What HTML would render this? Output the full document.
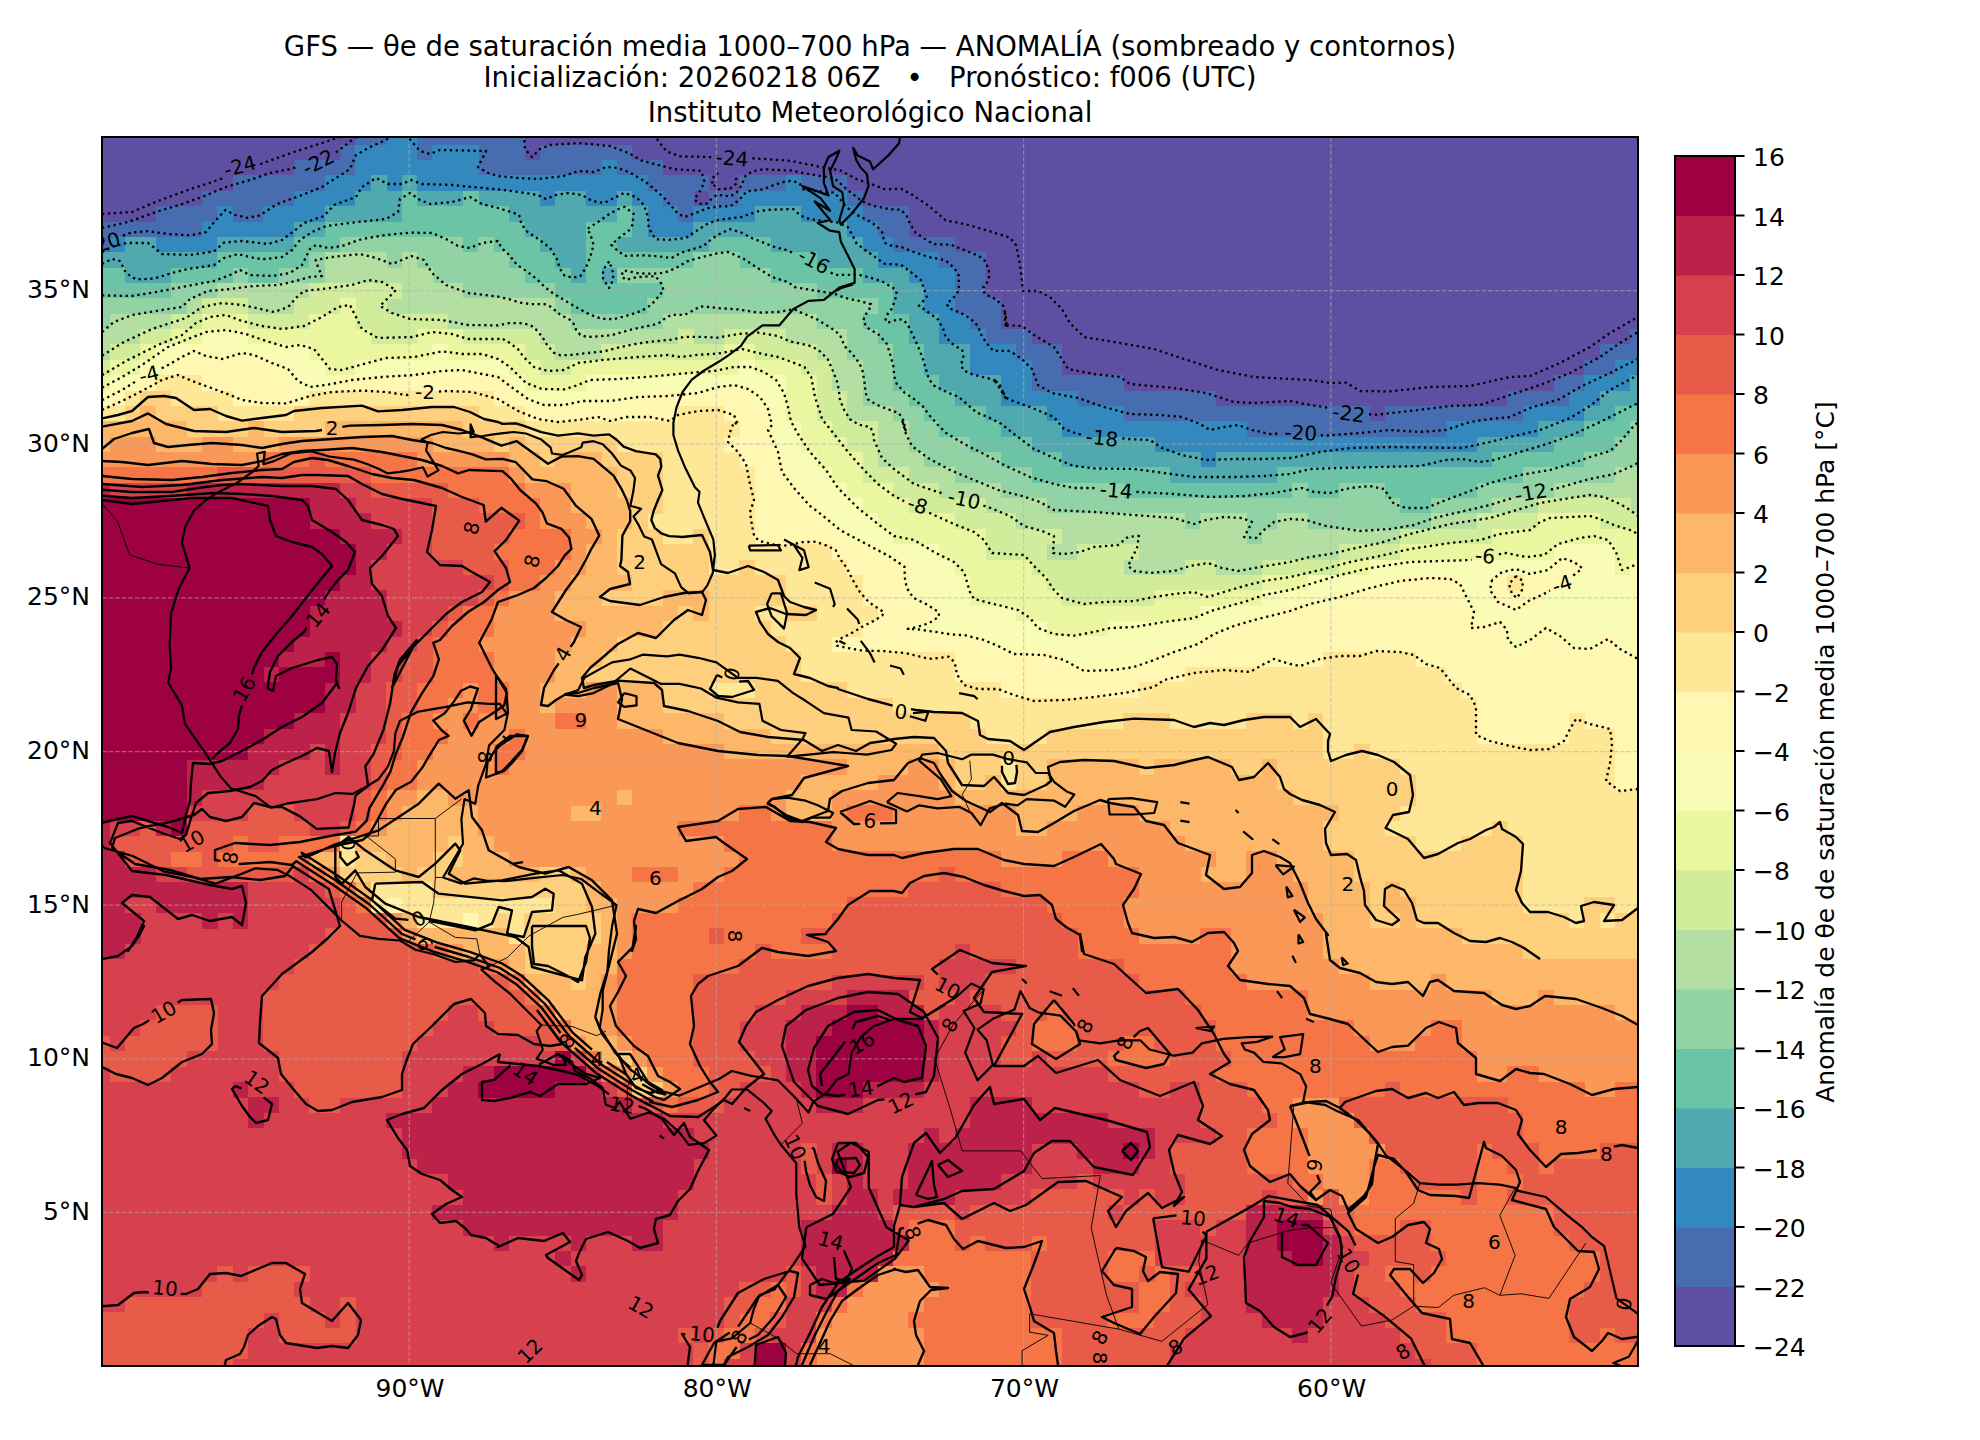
<!DOCTYPE html>
<html lang="es"><head><meta charset="utf-8"><title>GFS θe anomalía</title>
<style>html,body{margin:0;padding:0;background:#fff}body{width:1980px;height:1440px;overflow:hidden}svg{display:block}text{font-family:"DejaVu Sans","Liberation Sans",sans-serif;fill:#000}</style></head><body>
<svg width="1980" height="1440" viewBox="0 0 1980 1440">
<rect width="1980" height="1440" fill="#fff"/>
<g font-size="27.5" text-anchor="middle">
<text x="870.0" y="55.5">GFS — θe de saturación media 1000–700 hPa — ANOMALÍA (sombreado y contornos)</text>
<text x="870.0" y="86.5" xml:space="preserve">Inicialización: 20260218 06Z   •   Pronóstico: f006 (UTC)</text>
<text x="870.0" y="121.5">Instituto Meteorológico Nacional</text>
</g>
<clipPath id="mc"><rect x="102.0" y="137.0" width="1536.0" height="1229.0"/></clipPath>
<g clip-path="url(#mc)">
<rect x="102.0" y="137.0" width="1536.0" height="1229.0" fill="#d7414e"/>
<rect x="102.0" y="137.0" width="1536.0" height="1229.0" fill="#d7414e"/>
<path fill="#5e4fa2" shape-rendering="crispEdges" d="M102.0 137.0H355.7V145.0H102.0ZM524.4 137.0H1638.3V145.0H524.4ZM102.0 144.7H340.4V160.3H102.0ZM524.4 144.7H540.1V160.3H524.4ZM631.9 144.7H1638.3V160.3H631.9ZM102.0 160.0H294.3V175.7H102.0ZM662.6 160.0H1638.3V175.7H662.6ZM102.0 175.4H232.9V191.1H102.0ZM708.7 175.4H739.7V191.1H708.7ZM847.0 175.4H1638.3V191.1H847.0ZM102.0 190.8H202.1V206.4H102.0ZM693.4 190.8H709.0V206.4H693.4ZM862.3 190.8H1638.3V206.4H862.3ZM102.0 206.1H156.1V221.8H102.0ZM908.4 206.1H1638.3V221.8H908.4ZM908.4 221.5H1638.3V237.2H908.4ZM954.5 236.9H1638.3V252.5H954.5ZM985.2 252.2H1638.3V267.9H985.2ZM985.2 267.6H1638.3V283.2H985.2ZM985.2 282.9H1638.3V298.6H985.2ZM1000.6 298.3H1638.3V314.0H1000.6ZM1000.6 313.7H1638.3V329.3H1000.6ZM1031.3 329.0H1630.6V344.7H1031.3ZM1062.0 344.4H1599.9V360.1H1062.0ZM1062.0 359.8H1584.5V375.4H1062.0ZM1123.4 375.1H1553.8V390.8H1123.4ZM1215.6 390.5H1507.7V406.1H1215.6ZM1369.2 405.8H1384.9V421.5H1369.2Z"/>
<path fill="#486cb0" shape-rendering="crispEdges" d="M355.4 137.0H386.5V145.0H355.4ZM416.9 137.0H524.7V145.0H416.9ZM340.1 144.7H355.7V160.3H340.1ZM416.9 144.7H432.5V160.3H416.9ZM478.3 144.7H524.7V160.3H478.3ZM539.8 144.7H632.2V160.3H539.8ZM294.0 160.0H355.7V175.7H294.0ZM478.3 160.0H601.5V175.7H478.3ZM616.6 160.0H662.9V175.7H616.6ZM232.6 175.4H325.0V191.1H232.6ZM647.3 175.4H709.0V191.1H647.3ZM739.4 175.4H785.8V191.1H739.4ZM800.9 175.4H847.3V191.1H800.9ZM201.8 190.8H294.3V206.4H201.8ZM662.6 190.8H693.7V206.4H662.6ZM708.7 190.8H739.7V206.4H708.7ZM847.0 190.8H862.6V206.4H847.0ZM155.8 206.1H217.5V221.8H155.8ZM232.6 206.1H263.6V221.8H232.6ZM678.0 206.1H693.7V221.8H678.0ZM862.3 206.1H908.7V221.8H862.3ZM102.0 221.5H202.1V237.2H102.0ZM877.7 221.5H908.7V237.2H877.7ZM102.0 236.9H110.0V252.5H102.0ZM893.0 236.9H954.8V252.5H893.0ZM939.1 252.2H985.5V267.9H939.1ZM954.5 267.6H985.5V283.2H954.5ZM954.5 282.9H985.5V298.6H954.5ZM954.5 298.3H1000.9V314.0H954.5ZM969.8 313.7H1000.9V329.3H969.8ZM985.2 329.0H1031.6V344.7H985.2ZM1630.3 329.0H1638.3V344.7H1630.3ZM1015.9 344.4H1062.3V360.1H1015.9ZM1599.6 344.4H1638.3V360.1H1599.6ZM1031.3 359.8H1062.3V375.4H1031.3ZM1584.2 359.8H1615.3V375.4H1584.2ZM1031.3 375.1H1123.7V390.8H1031.3ZM1553.5 375.1H1584.5V390.8H1553.5ZM1077.4 390.5H1215.9V406.1H1077.4ZM1507.4 390.5H1569.2V406.1H1507.4ZM1123.4 405.8H1369.5V421.5H1123.4ZM1384.6 405.8H1523.1V421.5H1384.6ZM1246.3 421.2H1446.3V436.9H1246.3Z"/>
<path fill="#3389bd" shape-rendering="crispEdges" d="M386.2 137.0H417.2V145.0H386.2ZM355.4 144.7H417.2V160.3H355.4ZM432.2 144.7H478.6V160.3H432.2ZM355.4 160.0H478.6V175.7H355.4ZM601.2 160.0H616.9V175.7H601.2ZM324.7 175.4H371.1V191.1H324.7ZM386.2 175.4H401.8V191.1H386.2ZM416.9 175.4H647.6V191.1H416.9ZM785.5 175.4H801.2V191.1H785.5ZM294.0 190.8H355.7V206.4H294.0ZM539.8 190.8H555.4V206.4H539.8ZM585.8 190.8H616.9V206.4H585.8ZM631.9 190.8H662.9V206.4H631.9ZM739.4 190.8H847.3V206.4H739.4ZM217.2 206.1H232.9V221.8H217.2ZM263.3 206.1H325.0V221.8H263.3ZM647.3 206.1H678.3V221.8H647.3ZM693.4 206.1H755.1V221.8H693.4ZM800.9 206.1H862.6V221.8H800.9ZM201.8 221.5H294.3V237.2H201.8ZM647.3 221.5H693.7V237.2H647.3ZM847.0 221.5H878.0V237.2H847.0ZM109.7 236.9H125.3V252.5H109.7ZM155.8 236.9H217.5V252.5H155.8ZM862.3 236.9H893.3V252.5H862.3ZM877.7 252.2H939.4V267.9H877.7ZM908.4 267.6H954.8V283.2H908.4ZM923.8 282.9H954.8V298.6H923.8ZM923.8 298.3H954.8V314.0H923.8ZM939.1 313.7H970.1V329.3H939.1ZM939.1 329.0H985.5V344.7H939.1ZM969.8 344.4H1016.2V360.1H969.8ZM969.8 359.8H1031.6V375.4H969.8ZM1615.0 359.8H1638.3V375.4H1615.0ZM1000.6 375.1H1031.6V390.8H1000.6ZM1584.2 375.1H1630.6V390.8H1584.2ZM1000.6 390.5H1077.7V406.1H1000.6ZM1568.9 390.5H1599.9V406.1H1568.9ZM1046.6 405.8H1123.7V421.5H1046.6ZM1522.8 405.8H1584.5V421.5H1522.8ZM1062.0 421.2H1246.6V436.9H1062.0ZM1446.0 421.2H1538.5V436.9H1446.0ZM1154.2 436.6H1477.0V452.2H1154.2ZM1200.2 451.9H1215.9V467.6H1200.2Z"/>
<path fill="#50a9af" shape-rendering="crispEdges" d="M370.8 175.4H386.5V191.1H370.8ZM401.5 175.4H417.2V191.1H401.5ZM355.4 190.8H401.8V206.4H355.4ZM416.9 190.8H463.3V206.4H416.9ZM478.3 190.8H540.1V206.4H478.3ZM555.1 190.8H586.1V206.4H555.1ZM616.6 190.8H632.2V206.4H616.6ZM324.7 206.1H401.8V221.8H324.7ZM509.0 206.1H616.9V221.8H509.0ZM631.9 206.1H647.6V221.8H631.9ZM754.8 206.1H801.2V221.8H754.8ZM294.0 221.5H325.0V237.2H294.0ZM524.4 221.5H586.1V237.2H524.4ZM631.9 221.5H647.6V237.2H631.9ZM693.4 221.5H847.3V237.2H693.4ZM125.0 236.9H156.1V252.5H125.0ZM217.2 236.9H294.3V252.5H217.2ZM539.8 236.9H586.1V252.5H539.8ZM616.6 236.9H709.0V252.5H616.6ZM770.2 236.9H862.6V252.5H770.2ZM102.0 252.2H217.5V267.9H102.0ZM555.1 252.2H586.1V267.9H555.1ZM816.2 252.2H878.0V267.9H816.2ZM125.0 267.6H171.4V283.2H125.0ZM570.5 267.6H586.1V283.2H570.5ZM601.2 267.6H616.9V283.2H601.2ZM862.3 267.6H908.7V283.2H862.3ZM893.0 282.9H924.1V298.6H893.0ZM893.0 298.3H924.1V314.0H893.0ZM908.4 313.7H939.4V329.3H908.4ZM908.4 329.0H939.4V344.7H908.4ZM923.8 344.4H970.1V360.1H923.8ZM923.8 359.8H970.1V375.4H923.8ZM939.1 375.1H1000.9V390.8H939.1ZM1630.3 375.1H1638.3V390.8H1630.3ZM954.5 390.5H1000.9V406.1H954.5ZM1599.6 390.5H1638.3V406.1H1599.6ZM985.2 405.8H1046.9V421.5H985.2ZM1584.2 405.8H1615.3V421.5H1584.2ZM1000.6 421.2H1062.3V436.9H1000.6ZM1538.2 421.2H1584.5V436.9H1538.2ZM1031.3 436.6H1154.5V452.2H1031.3ZM1476.7 436.6H1553.8V452.2H1476.7ZM1062.0 451.9H1200.5V467.6H1062.0ZM1215.6 451.9H1492.4V467.6H1215.6ZM1169.5 467.3H1277.3V483.0H1169.5Z"/>
<path fill="#6bc4a5" shape-rendering="crispEdges" d="M401.5 190.8H417.2V206.4H401.5ZM463.0 190.8H478.6V206.4H463.0ZM401.5 206.1H509.3V221.8H401.5ZM616.6 206.1H632.2V221.8H616.6ZM324.7 221.5H524.7V237.2H324.7ZM585.8 221.5H632.2V237.2H585.8ZM294.0 236.9H340.4V252.5H294.0ZM463.0 236.9H478.6V252.5H463.0ZM493.7 236.9H540.1V252.5H493.7ZM585.8 236.9H616.9V252.5H585.8ZM708.7 236.9H770.5V252.5H708.7ZM217.2 252.2H309.7V267.9H217.2ZM509.0 252.2H555.4V267.9H509.0ZM585.8 252.2H693.7V267.9H585.8ZM739.4 252.2H816.5V267.9H739.4ZM102.0 267.6H125.3V283.2H102.0ZM171.1 267.6H232.9V283.2H171.1ZM247.9 267.6H278.9V283.2H247.9ZM524.4 267.6H570.8V283.2H524.4ZM585.8 267.6H601.5V283.2H585.8ZM770.2 267.6H862.6V283.2H770.2ZM102.0 282.9H171.4V298.6H102.0ZM555.1 282.9H662.9V298.6H555.1ZM816.2 282.9H893.3V298.6H816.2ZM570.5 298.3H647.6V314.0H570.5ZM877.7 298.3H893.3V314.0H877.7ZM862.3 313.7H908.7V329.3H862.3ZM877.7 329.0H908.7V344.7H877.7ZM893.0 344.4H924.1V360.1H893.0ZM893.0 359.8H924.1V375.4H893.0ZM893.0 375.1H939.4V390.8H893.0ZM908.4 390.5H954.8V406.1H908.4ZM923.8 405.8H985.5V421.5H923.8ZM1615.0 405.8H1638.3V421.5H1615.0ZM939.1 421.2H1000.9V436.9H939.1ZM1584.2 421.2H1630.6V436.9H1584.2ZM969.8 436.6H1031.6V452.2H969.8ZM1553.5 436.6H1615.3V452.2H1553.5ZM1000.6 451.9H1062.3V467.6H1000.6ZM1492.1 451.9H1584.5V467.6H1492.1ZM1031.3 467.3H1169.8V483.0H1031.3ZM1277.0 467.3H1523.1V483.0H1277.0ZM1123.4 482.7H1292.7V498.3H1123.4ZM1307.8 482.7H1338.8V498.3H1307.8ZM1384.6 482.7H1477.0V498.3H1384.6ZM1399.9 498.0H1430.9V513.7H1399.9Z"/>
<path fill="#91d3a4" shape-rendering="crispEdges" d="M340.1 236.9H463.3V252.5H340.1ZM478.3 236.9H494.0V252.5H478.3ZM309.4 252.2H325.0V267.9H309.4ZM386.2 252.2H401.8V267.9H386.2ZM416.9 252.2H509.3V267.9H416.9ZM693.4 252.2H739.7V267.9H693.4ZM232.6 267.6H248.2V283.2H232.6ZM278.6 267.6H325.0V283.2H278.6ZM432.2 267.6H524.7V283.2H432.2ZM616.6 267.6H770.5V283.2H616.6ZM171.1 282.9H217.5V298.6H171.1ZM463.0 282.9H555.4V298.6H463.0ZM662.6 282.9H816.5V298.6H662.6ZM102.0 298.3H186.8V314.0H102.0ZM555.1 298.3H570.8V314.0H555.1ZM647.3 298.3H878.0V314.0H647.3ZM102.0 313.7H110.0V329.3H102.0ZM570.5 313.7H662.9V329.3H570.5ZM816.2 313.7H862.6V329.3H816.2ZM847.0 329.0H878.0V344.7H847.0ZM847.0 344.4H893.3V360.1H847.0ZM862.3 359.8H893.3V375.4H862.3ZM862.3 375.1H893.3V390.8H862.3ZM862.3 390.5H908.7V406.1H862.3ZM893.0 405.8H924.1V421.5H893.0ZM908.4 421.2H939.4V436.9H908.4ZM1630.3 421.2H1638.3V436.9H1630.3ZM908.4 436.6H970.1V452.2H908.4ZM1615.0 436.6H1638.3V452.2H1615.0ZM923.8 451.9H1000.9V467.6H923.8ZM1584.2 451.9H1638.3V467.6H1584.2ZM954.5 467.3H1031.6V483.0H954.5ZM1522.8 467.3H1615.3V483.0H1522.8ZM1000.6 482.7H1123.7V498.3H1000.6ZM1292.4 482.7H1308.1V498.3H1292.4ZM1338.5 482.7H1384.9V498.3H1338.5ZM1476.7 482.7H1553.8V498.3H1476.7ZM1046.6 498.0H1400.2V513.7H1046.6ZM1430.6 498.0H1492.4V513.7H1430.6ZM1184.9 513.4H1200.5V529.0H1184.9ZM1246.3 513.4H1277.3V529.0H1246.3ZM1307.8 513.4H1430.9V529.0H1307.8ZM1246.3 528.7H1262.0V544.4H1246.3Z"/>
<path fill="#b3e0a2" shape-rendering="crispEdges" d="M324.7 252.2H386.5V267.9H324.7ZM401.5 252.2H417.2V267.9H401.5ZM324.7 267.6H432.5V283.2H324.7ZM217.2 282.9H309.7V298.6H217.2ZM401.5 282.9H463.3V298.6H401.5ZM186.5 298.3H202.1V314.0H186.5ZM247.9 298.3H294.3V314.0H247.9ZM386.2 298.3H555.4V314.0H386.2ZM109.7 313.7H171.4V329.3H109.7ZM447.6 313.7H570.8V329.3H447.6ZM662.6 313.7H816.5V329.3H662.6ZM102.0 329.0H140.7V344.7H102.0ZM539.8 329.0H678.3V344.7H539.8ZM693.4 329.0H724.4V344.7H693.4ZM785.5 329.0H847.3V344.7H785.5ZM102.0 344.4H110.0V360.1H102.0ZM555.1 344.4H601.5V360.1H555.1ZM816.2 344.4H847.3V360.1H816.2ZM831.6 359.8H862.6V375.4H831.6ZM831.6 375.1H862.6V390.8H831.6ZM847.0 390.5H862.6V406.1H847.0ZM847.0 405.8H893.3V421.5H847.0ZM877.7 421.2H908.7V436.9H877.7ZM877.7 436.6H908.7V452.2H877.7ZM877.7 451.9H924.1V467.6H877.7ZM908.4 467.3H954.8V483.0H908.4ZM1615.0 467.3H1638.3V483.0H1615.0ZM939.1 482.7H1000.9V498.3H939.1ZM1553.5 482.7H1638.3V498.3H1553.5ZM985.2 498.0H1046.9V513.7H985.2ZM1492.1 498.0H1538.5V513.7H1492.1ZM1630.3 498.0H1638.3V513.7H1630.3ZM1015.9 513.4H1185.2V529.0H1015.9ZM1200.2 513.4H1246.6V529.0H1200.2ZM1277.0 513.4H1308.1V529.0H1277.0ZM1430.6 513.4H1477.0V529.0H1430.6ZM1062.0 528.7H1246.6V544.4H1062.0ZM1261.7 528.7H1400.2V544.4H1261.7ZM1046.6 544.1H1077.7V559.8H1046.6ZM1138.8 544.1H1338.8V559.8H1138.8ZM1123.4 559.5H1185.2V575.1H1123.4ZM1215.6 559.5H1262.0V575.1H1215.6Z"/>
<path fill="#d1ed9c" shape-rendering="crispEdges" d="M309.4 282.9H401.8V298.6H309.4ZM201.8 298.3H248.2V314.0H201.8ZM294.0 298.3H340.4V314.0H294.0ZM355.4 298.3H386.5V314.0H355.4ZM171.1 313.7H202.1V329.3H171.1ZM247.9 313.7H309.7V329.3H247.9ZM355.4 313.7H447.9V329.3H355.4ZM140.4 329.0H171.4V344.7H140.4ZM370.8 329.0H417.2V344.7H370.8ZM463.0 329.0H540.1V344.7H463.0ZM678.0 329.0H693.7V344.7H678.0ZM724.1 329.0H785.8V344.7H724.1ZM109.7 344.4H140.7V360.1H109.7ZM524.4 344.4H555.4V360.1H524.4ZM601.2 344.4H724.4V360.1H601.2ZM754.8 344.4H816.5V360.1H754.8ZM102.0 359.8H110.0V375.4H102.0ZM539.8 359.8H570.8V375.4H539.8ZM800.9 359.8H831.9V375.4H800.9ZM816.2 375.1H831.9V390.8H816.2ZM816.2 390.5H847.3V406.1H816.2ZM816.2 405.8H847.3V421.5H816.2ZM831.6 421.2H878.0V436.9H831.6ZM847.0 436.6H878.0V452.2H847.0ZM862.3 451.9H878.0V467.6H862.3ZM862.3 467.3H908.7V483.0H862.3ZM893.0 482.7H939.4V498.3H893.0ZM908.4 498.0H985.5V513.7H908.4ZM1538.2 498.0H1630.6V513.7H1538.2ZM954.5 513.4H1016.2V529.0H954.5ZM1476.7 513.4H1538.5V529.0H1476.7ZM1599.6 513.4H1638.3V529.0H1599.6ZM985.2 528.7H1062.3V544.4H985.2ZM1399.9 528.7H1492.4V544.4H1399.9ZM985.2 544.1H1046.9V559.8H985.2ZM1077.4 544.1H1139.1V559.8H1077.4ZM1338.5 544.1H1400.2V559.8H1338.5ZM1031.3 559.5H1123.7V575.1H1031.3ZM1184.9 559.5H1215.9V575.1H1184.9ZM1261.7 559.5H1338.8V575.1H1261.7ZM1046.6 574.8H1262.0V590.5H1046.6ZM1062.0 590.2H1154.5V605.9H1062.0Z"/>
<path fill="#ebf7a0" shape-rendering="crispEdges" d="M340.1 298.3H355.7V314.0H340.1ZM201.8 313.7H248.2V329.3H201.8ZM309.4 313.7H355.7V329.3H309.4ZM171.1 329.0H202.1V344.7H171.1ZM247.9 329.0H371.1V344.7H247.9ZM416.9 329.0H463.3V344.7H416.9ZM140.4 344.4H156.1V360.1H140.4ZM309.4 344.4H432.5V360.1H309.4ZM447.6 344.4H524.7V360.1H447.6ZM724.1 344.4H755.1V360.1H724.1ZM109.7 359.8H140.7V375.4H109.7ZM324.7 359.8H355.7V375.4H324.7ZM509.0 359.8H540.1V375.4H509.0ZM570.5 359.8H739.7V375.4H570.5ZM754.8 359.8H801.2V375.4H754.8ZM102.0 375.1H110.0V390.8H102.0ZM524.4 375.1H586.1V390.8H524.4ZM785.5 375.1H816.5V390.8H785.5ZM785.5 390.5H816.5V406.1H785.5ZM785.5 405.8H816.5V421.5H785.5ZM800.9 421.2H831.9V436.9H800.9ZM800.9 436.6H847.3V452.2H800.9ZM816.2 451.9H862.6V467.6H816.2ZM831.6 467.3H862.6V483.0H831.6ZM847.0 482.7H893.3V498.3H847.0ZM862.3 498.0H908.7V513.7H862.3ZM877.7 513.4H954.8V529.0H877.7ZM1538.2 513.4H1599.9V529.0H1538.2ZM893.0 528.7H985.5V544.4H893.0ZM1492.1 528.7H1638.3V544.4H1492.1ZM939.1 544.1H985.5V559.8H939.1ZM1399.9 544.1H1553.8V559.8H1399.9ZM1615.0 544.1H1638.3V559.8H1615.0ZM954.5 559.5H1031.6V575.1H954.5ZM1338.5 559.5H1369.5V575.1H1338.5ZM1615.0 559.5H1630.6V575.1H1615.0ZM969.8 574.8H1046.9V590.5H969.8ZM1261.7 574.8H1308.1V590.5H1261.7ZM969.8 590.2H1062.3V605.9H969.8ZM1154.2 590.2H1262.0V605.9H1154.2ZM1015.9 605.6H1200.5V621.2H1015.9ZM1046.6 620.9H1108.4V636.6H1046.6Z"/>
<path fill="#f8fcb4" shape-rendering="crispEdges" d="M201.8 329.0H248.2V344.7H201.8ZM155.8 344.4H186.8V360.1H155.8ZM201.8 344.4H309.7V360.1H201.8ZM432.2 344.4H447.9V360.1H432.2ZM140.4 359.8H171.4V375.4H140.4ZM278.6 359.8H325.0V375.4H278.6ZM355.4 359.8H509.3V375.4H355.4ZM739.4 359.8H755.1V375.4H739.4ZM109.7 375.1H140.7V390.8H109.7ZM294.0 375.1H340.4V390.8H294.0ZM509.0 375.1H524.7V390.8H509.0ZM585.8 375.1H785.8V390.8H585.8ZM102.0 390.5H110.0V406.1H102.0ZM524.4 390.5H632.2V406.1H524.4ZM754.8 390.5H785.8V406.1H754.8ZM770.2 405.8H785.8V421.5H770.2ZM770.2 421.2H801.2V436.9H770.2ZM770.2 436.6H801.2V452.2H770.2ZM785.5 451.9H816.5V467.6H785.5ZM785.5 467.3H831.9V483.0H785.5ZM800.9 482.7H847.3V498.3H800.9ZM816.2 498.0H862.6V513.7H816.2ZM831.6 513.4H878.0V529.0H831.6ZM847.0 528.7H893.3V544.4H847.0ZM877.7 544.1H939.4V559.8H877.7ZM1553.5 544.1H1615.3V559.8H1553.5ZM908.4 559.5H954.8V575.1H908.4ZM1369.2 559.5H1553.8V575.1H1369.2ZM1584.2 559.5H1615.3V575.1H1584.2ZM1630.3 559.5H1638.3V575.1H1630.3ZM908.4 574.8H970.1V590.5H908.4ZM1307.8 574.8H1400.2V590.5H1307.8ZM1461.4 574.8H1492.4V590.5H1461.4ZM1568.9 574.8H1638.3V590.5H1568.9ZM908.4 590.2H970.1V605.9H908.4ZM1261.7 590.2H1338.8V605.9H1261.7ZM1461.4 590.2H1492.4V605.9H1461.4ZM1538.2 590.2H1638.3V605.9H1538.2ZM939.1 605.6H1016.2V621.2H939.1ZM1200.2 605.6H1277.3V621.2H1200.2ZM1476.7 605.6H1638.3V621.2H1476.7ZM908.4 620.9H1046.9V636.6H908.4ZM1108.1 620.9H1231.3V636.6H1108.1ZM1507.4 620.9H1538.5V636.6H1507.4ZM1553.5 620.9H1638.3V636.6H1553.5ZM985.2 636.3H1200.5V651.9H985.2ZM1507.4 636.3H1523.1V651.9H1507.4ZM1568.9 636.3H1599.9V651.9H1568.9ZM1615.0 636.3H1638.3V651.9H1615.0ZM1062.0 651.6H1154.5V667.3H1062.0Z"/>
<path fill="#fff7b2" shape-rendering="crispEdges" d="M186.5 344.4H202.1V360.1H186.5ZM171.1 359.8H278.9V375.4H171.1ZM140.4 375.1H156.1V390.8H140.4ZM201.8 375.1H294.3V390.8H201.8ZM340.1 375.1H509.3V390.8H340.1ZM109.7 390.5H125.3V406.1H109.7ZM232.6 390.5H309.7V406.1H232.6ZM493.7 390.5H524.7V406.1H493.7ZM631.9 390.5H755.1V406.1H631.9ZM524.4 405.8H678.3V421.5H524.4ZM724.1 405.8H770.5V421.5H724.1ZM739.4 421.2H770.5V436.9H739.4ZM724.1 436.6H770.5V452.2H724.1ZM739.4 451.9H785.8V467.6H739.4ZM754.8 467.3H785.8V483.0H754.8ZM754.8 482.7H801.2V498.3H754.8ZM754.8 498.0H816.5V513.7H754.8ZM754.8 513.4H831.9V529.0H754.8ZM754.8 528.7H847.3V544.4H754.8ZM831.6 544.1H878.0V559.8H831.6ZM847.0 559.5H908.7V575.1H847.0ZM1553.5 559.5H1584.5V575.1H1553.5ZM862.3 574.8H908.7V590.5H862.3ZM1399.9 574.8H1461.7V590.5H1399.9ZM1492.1 574.8H1507.7V590.5H1492.1ZM1522.8 574.8H1569.2V590.5H1522.8ZM862.3 590.2H908.7V605.9H862.3ZM1338.5 590.2H1461.7V605.9H1338.5ZM1492.1 590.2H1538.5V605.9H1492.1ZM877.7 605.6H939.4V621.2H877.7ZM1277.0 605.6H1477.0V621.2H1277.0ZM862.3 620.9H908.7V636.6H862.3ZM1231.0 620.9H1507.7V636.6H1231.0ZM1538.2 620.9H1553.8V636.6H1538.2ZM831.6 636.3H985.5V651.9H831.6ZM1200.2 636.3H1507.7V651.9H1200.2ZM1522.8 636.3H1569.2V651.9H1522.8ZM1599.6 636.3H1615.3V651.9H1599.6ZM954.5 651.6H1062.3V667.3H954.5ZM1154.2 651.6H1323.4V667.3H1154.2ZM1415.3 651.6H1638.3V667.3H1415.3ZM954.5 667.0H1185.2V682.7H954.5ZM1446.0 667.0H1638.3V682.7H1446.0ZM1000.6 682.4H1139.1V698.0H1000.6ZM1461.4 682.4H1638.3V698.0H1461.4ZM1476.7 697.7H1638.3V713.4H1476.7ZM1476.7 713.1H1569.2V728.8H1476.7ZM1584.2 713.1H1638.3V728.8H1584.2ZM1476.7 728.5H1569.2V744.1H1476.7ZM1615.0 728.5H1638.3V744.1H1615.0ZM1615.0 743.8H1638.3V759.5H1615.0ZM1615.0 759.2H1638.3V774.8H1615.0ZM1615.0 774.5H1638.3V790.2H1615.0ZM386.2 897.4H401.8V913.1H386.2ZM463.0 912.8H478.6V928.5H463.0Z"/>
<path fill="#fee797" shape-rendering="crispEdges" d="M155.8 375.1H202.1V390.8H155.8ZM125.0 390.5H140.7V406.1H125.0ZM171.1 390.5H232.9V406.1H171.1ZM309.4 390.5H494.0V406.1H309.4ZM102.0 405.8H125.3V421.5H102.0ZM217.2 405.8H294.3V421.5H217.2ZM478.3 405.8H524.7V421.5H478.3ZM678.0 405.8H724.4V421.5H678.0ZM524.4 421.2H739.7V436.9H524.4ZM616.6 436.6H724.4V452.2H616.6ZM662.6 451.9H739.7V467.6H662.6ZM662.6 467.3H755.1V483.0H662.6ZM662.6 482.7H755.1V498.3H662.6ZM662.6 498.0H755.1V513.7H662.6ZM647.3 513.4H755.1V529.0H647.3ZM662.6 528.7H693.7V544.4H662.6ZM708.7 528.7H755.1V544.4H708.7ZM708.7 544.1H831.9V559.8H708.7ZM708.7 559.5H739.7V575.1H708.7ZM754.8 559.5H847.3V575.1H754.8ZM785.5 574.8H862.6V590.5H785.5ZM1507.4 574.8H1523.1V590.5H1507.4ZM785.5 590.2H862.6V605.9H785.5ZM754.8 605.6H785.8V621.2H754.8ZM816.2 605.6H878.0V621.2H816.2ZM770.2 620.9H862.6V636.6H770.2ZM785.5 636.3H831.9V651.9H785.5ZM800.9 651.6H954.8V667.3H800.9ZM1323.1 651.6H1415.6V667.3H1323.1ZM800.9 667.0H954.8V682.7H800.9ZM1184.9 667.0H1446.3V682.7H1184.9ZM708.7 682.4H755.1V698.0H708.7ZM847.0 682.4H1000.9V698.0H847.0ZM1138.8 682.4H1461.7V698.0H1138.8ZM893.0 697.7H1477.0V713.4H893.0ZM969.8 713.1H1123.7V728.8H969.8ZM1169.5 713.1H1246.6V728.8H1169.5ZM1292.4 713.1H1308.1V728.8H1292.4ZM1323.1 713.1H1477.0V728.8H1323.1ZM1568.9 713.1H1584.5V728.8H1568.9ZM985.2 728.5H1046.9V744.1H985.2ZM1323.1 728.5H1477.0V744.1H1323.1ZM1568.9 728.5H1615.3V744.1H1568.9ZM1323.1 743.8H1354.1V759.5H1323.1ZM1369.2 743.8H1615.3V759.5H1369.2ZM1000.6 759.2H1016.2V774.8H1000.6ZM1399.9 759.2H1615.3V774.8H1399.9ZM1000.6 774.5H1016.2V790.2H1000.6ZM1415.3 774.5H1615.3V790.2H1415.3ZM1415.3 789.9H1638.3V805.6H1415.3ZM1399.9 805.3H1638.3V820.9H1399.9ZM1384.6 820.6H1492.4V836.3H1384.6ZM1507.4 820.6H1638.3V836.3H1507.4ZM340.1 836.0H355.7V851.7H340.1ZM1415.3 836.0H1461.7V851.7H1415.3ZM1522.8 836.0H1638.3V851.7H1522.8ZM340.1 851.4H355.7V867.0H340.1ZM1522.8 851.4H1638.3V867.0H1522.8ZM1522.8 866.7H1638.3V882.4H1522.8ZM370.8 882.1H432.5V897.7H370.8ZM1522.8 882.1H1638.3V897.7H1522.8ZM370.8 897.4H386.5V913.1H370.8ZM401.5 897.4H555.4V913.1H401.5ZM1522.8 897.4H1584.5V913.1H1522.8ZM1615.0 897.4H1638.3V913.1H1615.0ZM416.9 912.8H463.3V928.5H416.9ZM478.3 912.8H494.0V928.5H478.3ZM509.0 912.8H524.7V928.5H509.0ZM1568.9 912.8H1584.5V928.5H1568.9ZM1599.6 912.8H1615.3V928.5H1599.6ZM509.0 928.2H524.7V943.8H509.0Z"/>
<path fill="#fed07e" shape-rendering="crispEdges" d="M140.4 390.5H171.4V406.1H140.4ZM125.0 405.8H140.7V421.5H125.0ZM155.8 405.8H217.5V421.5H155.8ZM294.0 405.8H478.6V421.5H294.0ZM186.5 421.2H248.2V436.9H186.5ZM263.3 421.2H325.0V436.9H263.3ZM463.0 421.2H524.7V436.9H463.0ZM493.7 436.6H509.3V452.2H493.7ZM524.4 436.6H616.9V452.2H524.4ZM539.8 451.9H555.4V467.6H539.8ZM601.2 451.9H662.9V467.6H601.2ZM616.6 467.3H662.9V483.0H616.6ZM616.6 482.7H662.9V498.3H616.6ZM631.9 498.0H662.9V513.7H631.9ZM631.9 513.4H647.6V529.0H631.9ZM616.6 528.7H662.9V544.4H616.6ZM693.4 528.7H709.0V544.4H693.4ZM616.6 544.1H709.0V559.8H616.6ZM616.6 559.5H709.0V575.1H616.6ZM739.4 559.5H755.1V575.1H739.4ZM631.9 574.8H785.8V590.5H631.9ZM601.2 590.2H662.9V605.9H601.2ZM708.7 590.2H785.8V605.9H708.7ZM678.0 605.6H693.7V621.2H678.0ZM708.7 605.6H755.1V621.2H708.7ZM785.5 605.6H816.5V621.2H785.5ZM662.6 620.9H770.5V636.6H662.6ZM616.6 636.3H785.8V651.9H616.6ZM601.2 651.6H801.2V667.3H601.2ZM585.8 667.0H801.2V682.7H585.8ZM662.6 682.4H709.0V698.0H662.6ZM754.8 682.4H847.3V698.0H754.8ZM662.6 697.7H893.3V713.4H662.6ZM724.1 713.1H970.1V728.8H724.1ZM1123.4 713.1H1169.8V728.8H1123.4ZM1246.3 713.1H1292.7V728.8H1246.3ZM1307.8 713.1H1323.4V728.8H1307.8ZM770.2 728.5H985.5V744.1H770.2ZM1046.6 728.5H1323.4V744.1H1046.6ZM939.1 743.8H1323.4V759.5H939.1ZM1353.8 743.8H1369.5V759.5H1353.8ZM954.5 759.2H1000.9V774.8H954.5ZM1015.9 759.2H1046.9V774.8H1015.9ZM1138.8 759.2H1154.5V774.8H1138.8ZM1231.0 759.2H1262.0V774.8H1231.0ZM1277.0 759.2H1400.2V774.8H1277.0ZM954.5 774.5H985.5V790.2H954.5ZM1015.9 774.5H1046.9V790.2H1015.9ZM1277.0 774.5H1415.6V790.2H1277.0ZM1292.4 789.9H1415.6V805.6H1292.4ZM1338.5 805.3H1400.2V820.9H1338.5ZM1323.1 820.6H1384.9V836.3H1323.1ZM1492.1 820.6H1507.7V836.3H1492.1ZM447.6 836.0H463.3V851.7H447.6ZM1323.1 836.0H1415.6V851.7H1323.1ZM1461.4 836.0H1523.1V851.7H1461.4ZM355.4 851.4H386.5V867.0H355.4ZM432.2 851.4H463.3V867.0H432.2ZM1353.8 851.4H1523.1V867.0H1353.8ZM340.1 866.7H401.8V882.4H340.1ZM416.9 866.7H447.9V882.4H416.9ZM539.8 866.7H570.8V882.4H539.8ZM1353.8 866.7H1523.1V882.4H1353.8ZM432.2 882.1H586.1V897.7H432.2ZM1369.2 882.1H1384.9V897.7H1369.2ZM1399.9 882.1H1523.1V897.7H1399.9ZM555.1 897.4H586.1V913.1H555.1ZM1369.2 897.4H1384.9V913.1H1369.2ZM1415.3 897.4H1523.1V913.1H1415.3ZM1584.2 897.4H1615.3V913.1H1584.2ZM493.7 912.8H509.3V928.5H493.7ZM524.4 912.8H601.5V928.5H524.4ZM1369.2 912.8H1400.2V928.5H1369.2ZM1415.3 912.8H1569.2V928.5H1415.3ZM1584.2 912.8H1599.9V928.5H1584.2ZM1615.0 912.8H1638.3V928.5H1615.0ZM524.4 928.2H601.5V943.8H524.4ZM1461.4 928.2H1638.3V943.8H1461.4ZM524.4 943.5H586.1V959.2H524.4ZM1522.8 943.5H1638.3V959.2H1522.8ZM524.4 958.9H586.1V974.6H524.4ZM570.5 974.3H586.1V989.9H570.5ZM616.6 1051.1H632.2V1066.7H616.6ZM631.9 1066.4H647.6V1082.1H631.9ZM631.9 1081.8H662.9V1097.5H631.9Z"/>
<path fill="#fdb768" shape-rendering="crispEdges" d="M140.4 405.8H156.1V421.5H140.4ZM102.0 421.2H186.8V436.9H102.0ZM247.9 421.2H263.6V436.9H247.9ZM324.7 421.2H463.3V436.9H324.7ZM102.0 436.6H110.0V452.2H102.0ZM155.8 436.6H202.1V452.2H155.8ZM232.6 436.6H278.9V452.2H232.6ZM432.2 436.6H494.0V452.2H432.2ZM509.0 436.6H524.7V452.2H509.0ZM509.0 451.9H540.1V467.6H509.0ZM555.1 451.9H601.5V467.6H555.1ZM524.4 467.3H616.9V483.0H524.4ZM570.5 482.7H616.9V498.3H570.5ZM570.5 498.0H632.2V513.7H570.5ZM585.8 513.4H632.2V529.0H585.8ZM601.2 528.7H616.9V544.4H601.2ZM585.8 544.1H616.9V559.8H585.8ZM585.8 559.5H616.9V575.1H585.8ZM570.5 574.8H632.2V590.5H570.5ZM555.1 590.2H601.5V605.9H555.1ZM662.6 590.2H709.0V605.9H662.6ZM555.1 605.6H678.3V621.2H555.1ZM693.4 605.6H709.0V621.2H693.4ZM585.8 620.9H662.9V636.6H585.8ZM570.5 636.3H616.9V651.9H570.5ZM555.1 651.6H601.5V667.3H555.1ZM555.1 667.0H586.1V682.7H555.1ZM539.8 682.4H586.1V698.0H539.8ZM616.6 682.4H662.9V698.0H616.6ZM539.8 697.7H555.4V713.4H539.8ZM616.6 697.7H662.9V713.4H616.6ZM616.6 713.1H724.4V728.8H616.6ZM662.6 728.5H770.5V744.1H662.6ZM724.1 743.8H939.4V759.5H724.1ZM847.0 759.2H908.7V774.8H847.0ZM939.1 759.2H954.8V774.8H939.1ZM1046.6 759.2H1139.1V774.8H1046.6ZM1154.2 759.2H1231.3V774.8H1154.2ZM1261.7 759.2H1277.3V774.8H1261.7ZM800.9 774.5H878.0V790.2H800.9ZM939.1 774.5H954.8V790.2H939.1ZM985.2 774.5H1000.9V790.2H985.2ZM1046.6 774.5H1277.3V790.2H1046.6ZM416.9 789.9H447.9V805.6H416.9ZM616.6 789.9H632.2V805.6H616.6ZM785.5 789.9H831.9V805.6H785.5ZM954.5 789.9H1292.7V805.6H954.5ZM401.5 805.3H478.6V820.9H401.5ZM570.5 805.3H601.5V820.9H570.5ZM785.5 805.3H831.9V820.9H785.5ZM1015.9 805.3H1077.7V820.9H1015.9ZM1138.8 805.3H1338.8V820.9H1138.8ZM386.2 820.6H478.6V836.3H386.2ZM1015.9 820.6H1046.9V836.3H1015.9ZM1169.5 820.6H1323.4V836.3H1169.5ZM355.4 836.0H447.9V851.7H355.4ZM463.0 836.0H494.0V851.7H463.0ZM1184.9 836.0H1323.4V851.7H1184.9ZM309.4 851.4H340.4V867.0H309.4ZM386.2 851.4H432.5V867.0H386.2ZM463.0 851.4H509.3V867.0H463.0ZM1215.6 851.4H1246.6V867.0H1215.6ZM1277.0 851.4H1354.1V867.0H1277.0ZM401.5 866.7H417.2V882.4H401.5ZM447.6 866.7H540.1V882.4H447.6ZM570.5 866.7H586.1V882.4H570.5ZM1200.2 866.7H1246.6V882.4H1200.2ZM1292.4 866.7H1354.1V882.4H1292.4ZM355.4 882.1H371.1V897.7H355.4ZM585.8 882.1H601.5V897.7H585.8ZM1307.8 882.1H1369.5V897.7H1307.8ZM1384.6 882.1H1400.2V897.7H1384.6ZM585.8 897.4H616.9V913.1H585.8ZM1307.8 897.4H1369.5V913.1H1307.8ZM1384.6 897.4H1415.6V913.1H1384.6ZM401.5 912.8H417.2V928.5H401.5ZM601.2 912.8H616.9V928.5H601.2ZM1323.1 912.8H1369.5V928.5H1323.1ZM1399.9 912.8H1415.6V928.5H1399.9ZM416.9 928.2H509.3V943.8H416.9ZM601.2 928.2H616.9V943.8H601.2ZM1323.1 928.2H1461.7V943.8H1323.1ZM463.0 943.5H524.7V959.2H463.0ZM585.8 943.5H616.9V959.2H585.8ZM1323.1 943.5H1523.1V959.2H1323.1ZM509.0 958.9H524.7V974.6H509.0ZM585.8 958.9H616.9V974.6H585.8ZM1338.5 958.9H1638.3V974.6H1338.5ZM524.4 974.3H570.8V989.9H524.4ZM585.8 974.3H601.5V989.9H585.8ZM1369.2 974.3H1430.9V989.9H1369.2ZM1446.0 974.3H1638.3V989.9H1446.0ZM539.8 989.6H601.5V1005.3H539.8ZM1492.1 989.6H1538.5V1005.3H1492.1ZM1553.5 989.6H1638.3V1005.3H1553.5ZM555.1 1005.0H601.5V1020.6H555.1ZM1615.0 1005.0H1638.3V1020.6H1615.0ZM570.5 1020.3H601.5V1036.0H570.5ZM585.8 1035.7H616.9V1051.4H585.8ZM601.2 1051.1H616.9V1066.7H601.2Z"/>
<path fill="#fa9857" shape-rendering="crispEdges" d="M109.7 436.6H156.1V452.2H109.7ZM201.8 436.6H232.9V452.2H201.8ZM278.6 436.6H432.5V452.2H278.6ZM102.0 451.9H263.6V467.6H102.0ZM416.9 451.9H509.3V467.6H416.9ZM509.0 467.3H524.7V483.0H509.0ZM524.4 482.7H570.8V498.3H524.4ZM539.8 498.0H570.8V513.7H539.8ZM539.8 513.4H586.1V529.0H539.8ZM570.5 528.7H601.5V544.4H570.5ZM570.5 544.1H586.1V559.8H570.5ZM555.1 559.5H586.1V575.1H555.1ZM539.8 574.8H570.8V590.5H539.8ZM509.0 590.2H555.4V605.9H509.0ZM493.7 605.6H555.4V621.2H493.7ZM493.7 620.9H586.1V636.6H493.7ZM478.3 636.3H570.8V651.9H478.3ZM493.7 651.6H555.4V667.3H493.7ZM493.7 667.0H555.4V682.7H493.7ZM463.0 682.4H478.6V698.0H463.0ZM509.0 682.4H540.1V698.0H509.0ZM585.8 682.4H616.9V698.0H585.8ZM447.6 697.7H478.6V713.4H447.6ZM509.0 697.7H540.1V713.4H509.0ZM555.1 697.7H616.9V713.4H555.1ZM432.2 713.1H463.3V728.8H432.2ZM478.3 713.1H555.4V728.8H478.3ZM585.8 713.1H616.9V728.8H585.8ZM447.6 728.5H509.3V744.1H447.6ZM524.4 728.5H662.9V744.1H524.4ZM432.2 743.8H494.0V759.5H432.2ZM524.4 743.8H724.4V759.5H524.4ZM416.9 759.2H494.0V774.8H416.9ZM509.0 759.2H847.3V774.8H509.0ZM908.4 759.2H939.4V774.8H908.4ZM416.9 774.5H801.2V790.2H416.9ZM877.7 774.5H939.4V790.2H877.7ZM386.2 789.9H417.2V805.6H386.2ZM447.6 789.9H616.9V805.6H447.6ZM631.9 789.9H785.8V805.6H631.9ZM831.6 789.9H954.8V805.6H831.6ZM386.2 805.3H401.8V820.9H386.2ZM478.3 805.3H570.8V820.9H478.3ZM601.2 805.3H739.7V820.9H601.2ZM770.2 805.3H785.8V820.9H770.2ZM831.6 805.3H847.3V820.9H831.6ZM893.0 805.3H1016.2V820.9H893.0ZM1077.4 805.3H1139.1V820.9H1077.4ZM370.8 820.6H386.5V836.3H370.8ZM478.3 820.6H678.3V836.3H478.3ZM831.6 820.6H1016.2V836.3H831.6ZM1046.6 820.6H1169.8V836.3H1046.6ZM493.7 836.0H724.4V851.7H493.7ZM831.6 836.0H1185.2V851.7H831.6ZM509.0 851.4H739.7V867.0H509.0ZM1000.6 851.4H1062.3V867.0H1000.6ZM1108.1 851.4H1215.9V867.0H1108.1ZM1246.3 851.4H1277.3V867.0H1246.3ZM324.7 866.7H340.4V882.4H324.7ZM585.8 866.7H632.2V882.4H585.8ZM678.0 866.7H724.4V882.4H678.0ZM1138.8 866.7H1200.5V882.4H1138.8ZM1246.3 866.7H1292.7V882.4H1246.3ZM601.2 882.1H693.7V897.7H601.2ZM1138.8 882.1H1308.1V897.7H1138.8ZM616.6 897.4H678.3V913.1H616.6ZM1123.4 897.4H1308.1V913.1H1123.4ZM386.2 912.8H401.8V928.5H386.2ZM616.6 912.8H632.2V928.5H616.6ZM1123.4 912.8H1323.4V928.5H1123.4ZM401.5 928.2H417.2V943.8H401.5ZM616.6 928.2H632.2V943.8H616.6ZM1138.8 928.2H1200.5V943.8H1138.8ZM1231.0 928.2H1323.4V943.8H1231.0ZM447.6 943.5H463.3V959.2H447.6ZM616.6 943.5H632.2V959.2H616.6ZM1231.0 943.5H1323.4V959.2H1231.0ZM493.7 958.9H509.3V974.6H493.7ZM1231.0 958.9H1338.8V974.6H1231.0ZM601.2 974.3H616.9V989.9H601.2ZM1246.3 974.3H1369.5V989.9H1246.3ZM1430.6 974.3H1446.3V989.9H1430.6ZM601.2 989.6H616.9V1005.3H601.2ZM1307.8 989.6H1492.4V1005.3H1307.8ZM1538.2 989.6H1553.8V1005.3H1538.2ZM601.2 1005.0H616.9V1020.6H601.2ZM1307.8 1005.0H1615.3V1020.6H1307.8ZM601.2 1020.3H616.9V1036.0H601.2ZM1353.8 1020.3H1430.9V1036.0H1353.8ZM1461.4 1020.3H1638.3V1036.0H1461.4ZM570.5 1035.7H586.1V1051.4H570.5ZM616.6 1035.7H632.2V1051.4H616.6ZM1369.2 1035.7H1415.6V1051.4H1369.2ZM1461.4 1035.7H1638.3V1051.4H1461.4ZM631.9 1051.1H647.6V1066.7H631.9ZM1476.7 1051.1H1638.3V1066.7H1476.7ZM616.6 1066.4H632.2V1082.1H616.6ZM647.3 1066.4H662.9V1082.1H647.3ZM1476.7 1066.4H1507.7V1082.1H1476.7ZM1538.2 1066.4H1638.3V1082.1H1538.2ZM662.6 1081.8H678.3V1097.5H662.6ZM1584.2 1081.8H1615.3V1097.5H1584.2ZM1292.4 1097.2H1338.8V1112.8H1292.4ZM1292.4 1112.5H1354.1V1128.2H1292.4ZM1307.8 1127.9H1369.5V1143.5H1307.8ZM1307.8 1143.2H1384.9V1158.9H1307.8ZM1307.8 1158.6H1369.5V1174.3H1307.8ZM1323.1 1174.0H1369.5V1189.6H1323.1ZM1307.8 1189.3H1323.4V1205.0H1307.8ZM1338.5 1189.3H1369.5V1205.0H1338.5ZM877.7 1266.1H924.1V1281.8H877.7ZM862.3 1281.5H939.4V1297.2H862.3ZM847.0 1296.9H924.1V1312.5H847.0ZM831.6 1312.2H908.7V1327.9H831.6ZM816.2 1327.6H924.1V1343.3H816.2ZM816.2 1343.0H924.1V1358.6H816.2ZM816.2 1358.3H924.1V1366.3H816.2Z"/>
<path fill="#f57547" shape-rendering="crispEdges" d="M263.3 451.9H309.7V467.6H263.3ZM324.7 451.9H417.2V467.6H324.7ZM102.0 467.3H217.5V483.0H102.0ZM370.8 467.3H509.3V483.0H370.8ZM447.6 482.7H524.7V498.3H447.6ZM478.3 498.0H540.1V513.7H478.3ZM524.4 513.4H540.1V529.0H524.4ZM509.0 528.7H570.8V544.4H509.0ZM493.7 544.1H570.8V559.8H493.7ZM509.0 559.5H555.4V575.1H509.0ZM509.0 574.8H540.1V590.5H509.0ZM493.7 590.2H509.3V605.9H493.7ZM463.0 605.6H494.0V621.2H463.0ZM447.6 620.9H494.0V636.6H447.6ZM432.2 636.3H478.6V651.9H432.2ZM432.2 651.6H494.0V667.3H432.2ZM432.2 667.0H494.0V682.7H432.2ZM416.9 682.4H463.3V698.0H416.9ZM478.3 682.4H509.3V698.0H478.3ZM416.9 697.7H447.9V713.4H416.9ZM478.3 697.7H509.3V713.4H478.3ZM401.5 713.1H432.5V728.8H401.5ZM463.0 713.1H478.6V728.8H463.0ZM555.1 713.1H586.1V728.8H555.1ZM401.5 728.5H447.9V744.1H401.5ZM509.0 728.5H524.7V744.1H509.0ZM401.5 743.8H432.5V759.5H401.5ZM493.7 743.8H524.7V759.5H493.7ZM386.2 759.2H417.2V774.8H386.2ZM493.7 759.2H509.3V774.8H493.7ZM386.2 774.5H417.2V790.2H386.2ZM370.8 789.9H386.5V805.6H370.8ZM370.8 805.3H386.5V820.9H370.8ZM739.4 805.3H770.5V820.9H739.4ZM847.0 805.3H893.3V820.9H847.0ZM355.4 820.6H371.1V836.3H355.4ZM678.0 820.6H831.9V836.3H678.0ZM232.6 836.0H248.2V851.7H232.6ZM278.6 836.0H340.4V851.7H278.6ZM724.1 836.0H831.9V851.7H724.1ZM171.1 851.4H202.1V867.0H171.1ZM217.2 851.4H309.7V867.0H217.2ZM739.4 851.4H1000.9V867.0H739.4ZM1062.0 851.4H1108.4V867.0H1062.0ZM309.4 866.7H325.0V882.4H309.4ZM631.9 866.7H678.3V882.4H631.9ZM724.1 866.7H939.4V882.4H724.1ZM954.5 866.7H1139.1V882.4H954.5ZM340.1 882.1H355.7V897.7H340.1ZM693.4 882.1H908.7V897.7H693.4ZM1000.6 882.1H1139.1V897.7H1000.6ZM355.4 897.4H371.1V913.1H355.4ZM678.0 897.4H847.3V913.1H678.0ZM1046.6 897.4H1123.7V913.1H1046.6ZM631.9 912.8H831.9V928.5H631.9ZM1062.0 912.8H1123.7V928.5H1062.0ZM631.9 928.2H709.0V943.8H631.9ZM724.1 928.2H801.2V943.8H724.1ZM1077.4 928.2H1139.1V943.8H1077.4ZM1200.2 928.2H1231.3V943.8H1200.2ZM432.2 943.5H447.9V959.2H432.2ZM631.9 943.5H755.1V959.2H631.9ZM770.2 943.5H831.9V959.2H770.2ZM1077.4 943.5H1231.3V959.2H1077.4ZM478.3 958.9H494.0V974.6H478.3ZM616.6 958.9H739.7V974.6H616.6ZM1123.4 958.9H1231.3V974.6H1123.4ZM509.0 974.3H524.7V989.9H509.0ZM616.6 974.3H693.7V989.9H616.6ZM1138.8 974.3H1246.6V989.9H1138.8ZM524.4 989.6H540.1V1005.3H524.4ZM616.6 989.6H693.7V1005.3H616.6ZM1184.9 989.6H1308.1V1005.3H1184.9ZM539.8 1005.0H555.4V1020.6H539.8ZM616.6 1005.0H693.7V1020.6H616.6ZM1046.6 1005.0H1062.3V1020.6H1046.6ZM1200.2 1005.0H1308.1V1020.6H1200.2ZM555.1 1020.3H570.8V1036.0H555.1ZM616.6 1020.3H693.7V1036.0H616.6ZM1031.3 1020.3H1077.7V1036.0H1031.3ZM1215.6 1020.3H1354.1V1036.0H1215.6ZM1430.6 1020.3H1461.7V1036.0H1430.6ZM631.9 1035.7H693.7V1051.4H631.9ZM1031.3 1035.7H1077.7V1051.4H1031.3ZM1123.4 1035.7H1154.5V1051.4H1123.4ZM1215.6 1035.7H1369.5V1051.4H1215.6ZM1415.3 1035.7H1461.7V1051.4H1415.3ZM585.8 1051.1H601.5V1066.7H585.8ZM647.3 1051.1H693.7V1066.7H647.3ZM1108.1 1051.1H1169.8V1066.7H1108.1ZM1231.0 1051.1H1477.0V1066.7H1231.0ZM601.2 1066.4H616.9V1082.1H601.2ZM662.6 1066.4H709.0V1082.1H662.6ZM1215.6 1066.4H1477.0V1082.1H1215.6ZM1507.4 1066.4H1538.5V1082.1H1507.4ZM678.0 1081.8H709.0V1097.5H678.0ZM1246.3 1081.8H1384.9V1097.5H1246.3ZM1399.9 1081.8H1584.5V1097.5H1399.9ZM1615.0 1081.8H1638.3V1097.5H1615.0ZM662.6 1097.2H678.3V1112.8H662.6ZM1261.7 1097.2H1292.7V1112.8H1261.7ZM1507.4 1097.2H1638.3V1112.8H1507.4ZM1277.0 1112.5H1292.7V1128.2H1277.0ZM1522.8 1112.5H1638.3V1128.2H1522.8ZM1246.3 1127.9H1308.1V1143.5H1246.3ZM1522.8 1127.9H1638.3V1143.5H1522.8ZM1246.3 1143.2H1308.1V1158.9H1246.3ZM1476.7 1143.2H1492.4V1158.9H1476.7ZM1538.2 1143.2H1599.9V1158.9H1538.2ZM1246.3 1158.6H1308.1V1174.3H1246.3ZM1369.2 1158.6H1400.2V1174.3H1369.2ZM1476.7 1158.6H1507.7V1174.3H1476.7ZM1538.2 1158.6H1553.8V1174.3H1538.2ZM1292.4 1174.0H1323.4V1189.6H1292.4ZM1369.2 1174.0H1415.6V1189.6H1369.2ZM1476.7 1174.0H1523.1V1189.6H1476.7ZM1369.2 1189.3H1461.7V1205.0H1369.2ZM1476.7 1189.3H1507.7V1205.0H1476.7ZM1353.8 1204.7H1553.8V1220.4H1353.8ZM908.4 1220.1H954.8V1235.7H908.4ZM1353.8 1220.1H1400.2V1235.7H1353.8ZM1430.6 1220.1H1553.8V1235.7H1430.6ZM908.4 1235.4H954.8V1251.1H908.4ZM969.8 1235.4H985.5V1251.1H969.8ZM1031.3 1235.4H1046.9V1251.1H1031.3ZM1430.6 1235.4H1569.2V1251.1H1430.6ZM893.0 1250.8H1031.6V1266.4H893.0ZM1108.1 1250.8H1154.5V1266.4H1108.1ZM1446.0 1250.8H1599.9V1266.4H1446.0ZM923.8 1266.1H1031.6V1281.8H923.8ZM1108.1 1266.1H1139.1V1281.8H1108.1ZM1154.2 1266.1H1169.8V1281.8H1154.2ZM1384.6 1266.1H1415.6V1281.8H1384.6ZM1430.6 1266.1H1599.9V1281.8H1430.6ZM770.2 1281.5H785.8V1297.2H770.2ZM847.0 1281.5H862.6V1297.2H847.0ZM939.1 1281.5H1031.6V1297.2H939.1ZM1138.8 1281.5H1169.8V1297.2H1138.8ZM1399.9 1281.5H1584.5V1297.2H1399.9ZM754.8 1296.9H785.8V1312.5H754.8ZM831.6 1296.9H847.3V1312.5H831.6ZM923.8 1296.9H1031.6V1312.5H923.8ZM1138.8 1296.9H1169.8V1312.5H1138.8ZM1415.3 1296.9H1569.2V1312.5H1415.3ZM739.4 1312.2H770.5V1327.9H739.4ZM816.2 1312.2H831.9V1327.9H816.2ZM908.4 1312.2H1031.6V1327.9H908.4ZM1108.1 1312.2H1154.5V1327.9H1108.1ZM1446.0 1312.2H1569.2V1327.9H1446.0ZM724.1 1327.6H755.1V1343.3H724.1ZM923.8 1327.6H1062.3V1343.3H923.8ZM1446.0 1327.6H1569.2V1343.3H1446.0ZM1599.6 1327.6H1615.3V1343.3H1599.6ZM708.7 1343.0H739.7V1358.6H708.7ZM800.9 1343.0H816.5V1358.6H800.9ZM923.8 1343.0H1062.3V1358.6H923.8ZM1476.7 1343.0H1638.3V1358.6H1476.7ZM708.7 1358.3H724.4V1366.3H708.7ZM800.9 1358.3H816.5V1366.3H800.9ZM923.8 1358.3H1062.3V1366.3H923.8ZM1476.7 1358.3H1638.3V1366.3H1476.7Z"/>
<path fill="#e85b48" shape-rendering="crispEdges" d="M309.4 451.9H325.0V467.6H309.4ZM217.2 467.3H371.1V483.0H217.2ZM370.8 482.7H447.9V498.3H370.8ZM432.2 498.0H478.6V513.7H432.2ZM432.2 513.4H524.7V529.0H432.2ZM432.2 528.7H509.3V544.4H432.2ZM432.2 544.1H494.0V559.8H432.2ZM463.0 559.5H509.3V575.1H463.0ZM493.7 574.8H509.3V590.5H493.7ZM478.3 590.2H494.0V605.9H478.3ZM447.6 605.6H463.3V621.2H447.6ZM432.2 620.9H447.9V636.6H432.2ZM416.9 636.3H432.5V651.9H416.9ZM401.5 651.6H432.5V667.3H401.5ZM401.5 667.0H432.5V682.7H401.5ZM386.2 682.4H417.2V698.0H386.2ZM386.2 697.7H417.2V713.4H386.2ZM386.2 713.1H401.8V728.8H386.2ZM386.2 728.5H401.8V744.1H386.2ZM370.8 743.8H401.8V759.5H370.8ZM370.8 759.2H386.5V774.8H370.8ZM370.8 774.5H386.5V790.2H370.8ZM355.4 789.9H371.1V805.6H355.4ZM247.9 805.3H294.3V820.9H247.9ZM355.4 805.3H371.1V820.9H355.4ZM140.4 820.6H156.1V836.3H140.4ZM186.5 820.6H309.7V836.3H186.5ZM340.1 820.6H355.7V836.3H340.1ZM109.7 836.0H232.9V851.7H109.7ZM247.9 836.0H278.9V851.7H247.9ZM125.0 851.4H171.4V867.0H125.0ZM201.8 851.4H217.5V867.0H201.8ZM186.5 866.7H294.3V882.4H186.5ZM939.1 866.7H954.8V882.4H939.1ZM324.7 882.1H340.4V897.7H324.7ZM908.4 882.1H1000.9V897.7H908.4ZM340.1 897.4H355.7V913.1H340.1ZM847.0 897.4H1046.9V913.1H847.0ZM340.1 912.8H386.5V928.5H340.1ZM831.6 912.8H1062.3V928.5H831.6ZM324.7 928.2H401.8V943.8H324.7ZM708.7 928.2H724.4V943.8H708.7ZM800.9 928.2H1077.7V943.8H800.9ZM309.4 943.5H432.5V959.2H309.4ZM754.8 943.5H770.5V959.2H754.8ZM831.6 943.5H954.8V959.2H831.6ZM969.8 943.5H1077.7V959.2H969.8ZM294.0 958.9H478.6V974.6H294.0ZM739.4 958.9H939.4V974.6H739.4ZM1015.9 958.9H1123.7V974.6H1015.9ZM278.6 974.3H509.3V989.9H278.6ZM693.4 974.3H831.9V989.9H693.4ZM923.8 974.3H939.4V989.9H923.8ZM985.2 974.3H1139.1V989.9H985.2ZM263.3 989.6H524.7V1005.3H263.3ZM693.4 989.6H785.8V1005.3H693.4ZM908.4 989.6H954.8V1005.3H908.4ZM969.8 989.6H1185.2V1005.3H969.8ZM155.8 1005.0H217.5V1020.6H155.8ZM263.3 1005.0H447.9V1020.6H263.3ZM478.3 1005.0H540.1V1020.6H478.3ZM693.4 1005.0H755.1V1020.6H693.4ZM923.8 1005.0H939.4V1020.6H923.8ZM1000.6 1005.0H1046.9V1020.6H1000.6ZM1062.0 1005.0H1200.5V1020.6H1062.0ZM140.4 1020.3H217.5V1036.0H140.4ZM263.3 1020.3H432.5V1036.0H263.3ZM493.7 1020.3H555.4V1036.0H493.7ZM693.4 1020.3H739.7V1036.0H693.4ZM1015.9 1020.3H1031.6V1036.0H1015.9ZM1077.4 1020.3H1215.9V1036.0H1077.4ZM102.0 1035.7H110.0V1051.4H102.0ZM125.0 1035.7H217.5V1051.4H125.0ZM263.3 1035.7H417.2V1051.4H263.3ZM539.8 1035.7H570.8V1051.4H539.8ZM693.4 1035.7H739.7V1051.4H693.4ZM1000.6 1035.7H1031.6V1051.4H1000.6ZM1077.4 1035.7H1123.7V1051.4H1077.4ZM1154.2 1035.7H1215.9V1051.4H1154.2ZM102.0 1051.1H186.8V1066.7H102.0ZM278.6 1051.1H401.8V1066.7H278.6ZM693.4 1051.1H755.1V1066.7H693.4ZM1000.6 1051.1H1031.6V1066.7H1000.6ZM1046.6 1051.1H1108.4V1066.7H1046.6ZM1169.5 1051.1H1231.3V1066.7H1169.5ZM109.7 1066.4H171.4V1082.1H109.7ZM278.6 1066.4H401.8V1082.1H278.6ZM708.7 1066.4H770.5V1082.1H708.7ZM1108.1 1066.4H1215.9V1082.1H1108.1ZM294.0 1081.8H401.8V1097.5H294.0ZM616.6 1081.8H632.2V1097.5H616.6ZM708.7 1081.8H739.7V1097.5H708.7ZM1138.8 1081.8H1169.8V1097.5H1138.8ZM1200.2 1081.8H1246.6V1097.5H1200.2ZM1384.6 1081.8H1400.2V1097.5H1384.6ZM309.4 1097.2H340.4V1112.8H309.4ZM647.3 1097.2H662.9V1112.8H647.3ZM678.0 1097.2H724.4V1112.8H678.0ZM1200.2 1097.2H1262.0V1112.8H1200.2ZM1338.5 1097.2H1507.7V1112.8H1338.5ZM1200.2 1112.5H1277.3V1128.2H1200.2ZM1353.8 1112.5H1523.1V1128.2H1353.8ZM1215.6 1127.9H1246.6V1143.5H1215.6ZM1369.2 1127.9H1523.1V1143.5H1369.2ZM800.9 1143.2H816.5V1158.9H800.9ZM1169.5 1143.2H1246.6V1158.9H1169.5ZM1384.6 1143.2H1477.0V1158.9H1384.6ZM1492.1 1143.2H1538.5V1158.9H1492.1ZM1599.6 1143.2H1638.3V1158.9H1599.6ZM800.9 1158.6H816.5V1174.3H800.9ZM1169.5 1158.6H1246.6V1174.3H1169.5ZM1399.9 1158.6H1477.0V1174.3H1399.9ZM1507.4 1158.6H1538.5V1174.3H1507.4ZM1553.5 1158.6H1638.3V1174.3H1553.5ZM816.2 1174.0H831.9V1189.6H816.2ZM1077.4 1174.0H1093.0V1189.6H1077.4ZM1184.9 1174.0H1292.7V1189.6H1184.9ZM1415.3 1174.0H1477.0V1189.6H1415.3ZM1522.8 1174.0H1638.3V1189.6H1522.8ZM816.2 1189.3H831.9V1205.0H816.2ZM1031.3 1189.3H1123.7V1205.0H1031.3ZM1138.8 1189.3H1154.5V1205.0H1138.8ZM1184.9 1189.3H1262.0V1205.0H1184.9ZM1277.0 1189.3H1308.1V1205.0H1277.0ZM1323.1 1189.3H1338.8V1205.0H1323.1ZM1461.4 1189.3H1477.0V1205.0H1461.4ZM1507.4 1189.3H1638.3V1205.0H1507.4ZM893.0 1204.7H954.8V1220.4H893.0ZM969.8 1204.7H1108.4V1220.4H969.8ZM1123.4 1204.7H1246.6V1220.4H1123.4ZM1323.1 1204.7H1354.1V1220.4H1323.1ZM1553.5 1204.7H1638.3V1220.4H1553.5ZM893.0 1220.1H908.7V1235.7H893.0ZM954.5 1220.1H1154.5V1235.7H954.5ZM1200.2 1220.1H1215.9V1235.7H1200.2ZM1338.5 1220.1H1354.1V1235.7H1338.5ZM1399.9 1220.1H1430.9V1235.7H1399.9ZM1553.5 1220.1H1638.3V1235.7H1553.5ZM954.5 1235.4H970.1V1251.1H954.5ZM985.2 1235.4H1031.6V1251.1H985.2ZM1046.6 1235.4H1154.5V1251.1H1046.6ZM1353.8 1235.4H1430.9V1251.1H1353.8ZM1568.9 1235.4H1638.3V1251.1H1568.9ZM1031.3 1250.8H1108.4V1266.4H1031.3ZM1369.2 1250.8H1446.3V1266.4H1369.2ZM1599.6 1250.8H1638.3V1266.4H1599.6ZM217.2 1266.1H232.9V1281.8H217.2ZM247.9 1266.1H309.7V1281.8H247.9ZM785.5 1266.1H801.2V1281.8H785.5ZM1031.3 1266.1H1108.4V1281.8H1031.3ZM1138.8 1266.1H1154.5V1281.8H1138.8ZM1169.5 1266.1H1200.5V1281.8H1169.5ZM1353.8 1266.1H1384.9V1281.8H1353.8ZM1415.3 1266.1H1430.9V1281.8H1415.3ZM1599.6 1266.1H1638.3V1281.8H1599.6ZM201.8 1281.5H294.3V1297.2H201.8ZM739.4 1281.5H770.5V1297.2H739.4ZM785.5 1281.5H801.2V1297.2H785.5ZM1031.3 1281.5H1139.1V1297.2H1031.3ZM1169.5 1281.5H1185.2V1297.2H1169.5ZM1353.8 1281.5H1400.2V1297.2H1353.8ZM1584.2 1281.5H1638.3V1297.2H1584.2ZM125.0 1296.9H309.7V1312.5H125.0ZM340.1 1296.9H355.7V1312.5H340.1ZM724.1 1296.9H755.1V1312.5H724.1ZM1031.3 1296.9H1139.1V1312.5H1031.3ZM1169.5 1296.9H1200.5V1312.5H1169.5ZM1369.2 1296.9H1415.6V1312.5H1369.2ZM1568.9 1296.9H1638.3V1312.5H1568.9ZM102.0 1312.2H263.6V1327.9H102.0ZM278.6 1312.2H325.0V1327.9H278.6ZM340.1 1312.2H355.7V1327.9H340.1ZM724.1 1312.2H739.7V1327.9H724.1ZM770.2 1312.2H785.8V1327.9H770.2ZM1031.3 1312.2H1108.4V1327.9H1031.3ZM1154.2 1312.2H1200.5V1327.9H1154.2ZM1384.6 1312.2H1446.3V1327.9H1384.6ZM1568.9 1312.2H1638.3V1327.9H1568.9ZM102.0 1327.6H248.2V1343.3H102.0ZM278.6 1327.6H355.7V1343.3H278.6ZM678.0 1327.6H693.7V1343.3H678.0ZM708.7 1327.6H724.4V1343.3H708.7ZM754.8 1327.6H770.5V1343.3H754.8ZM1062.0 1327.6H1185.2V1343.3H1062.0ZM1399.9 1327.6H1446.3V1343.3H1399.9ZM1568.9 1327.6H1599.9V1343.3H1568.9ZM1615.0 1327.6H1638.3V1343.3H1615.0ZM102.0 1343.0H248.2V1358.6H102.0ZM693.4 1343.0H709.0V1358.6H693.4ZM1062.0 1343.0H1169.8V1358.6H1062.0ZM1415.3 1343.0H1477.0V1358.6H1415.3ZM102.0 1358.3H232.9V1366.3H102.0ZM693.4 1358.3H709.0V1366.3H693.4ZM1062.0 1358.3H1169.8V1366.3H1062.0ZM1430.6 1358.3H1477.0V1366.3H1430.6Z"/>
<path fill="#bc2249" shape-rendering="crispEdges" d="M102.0 482.7H110.0V498.3H102.0ZM186.5 482.7H340.4V498.3H186.5ZM309.4 498.0H355.7V513.7H309.4ZM309.4 513.4H371.1V529.0H309.4ZM340.1 528.7H401.8V544.4H340.1ZM355.4 544.1H386.5V559.8H355.4ZM355.4 559.5H371.1V575.1H355.4ZM340.1 574.8H371.1V590.5H340.1ZM324.7 590.2H386.5V605.9H324.7ZM309.4 605.6H386.5V621.2H309.4ZM309.4 620.9H401.8V636.6H309.4ZM294.0 636.3H386.5V651.9H294.0ZM278.6 651.6H325.0V667.3H278.6ZM340.1 651.6H371.1V667.3H340.1ZM263.3 667.0H278.9V682.7H263.3ZM340.1 667.0H371.1V682.7H340.1ZM324.7 682.4H355.7V698.0H324.7ZM324.7 697.7H355.7V713.4H324.7ZM294.0 713.1H340.4V728.8H294.0ZM263.3 728.5H340.4V744.1H263.3ZM247.9 743.8H309.7V759.5H247.9ZM324.7 743.8H340.4V759.5H324.7ZM186.5 759.2H278.9V774.8H186.5ZM324.7 759.2H340.4V774.8H324.7ZM186.5 774.5H263.6V790.2H186.5ZM186.5 789.9H202.1V805.6H186.5ZM102.0 820.6H110.0V836.3H102.0ZM155.8 820.6H171.4V836.3H155.8ZM102.0 836.0H110.0V851.7H102.0ZM102.0 851.4H125.3V867.0H102.0ZM102.0 866.7H156.1V882.4H102.0ZM102.0 882.1H248.2V897.7H102.0ZM102.0 897.4H125.3V913.1H102.0ZM155.8 897.4H248.2V913.1H155.8ZM102.0 912.8H140.7V928.5H102.0ZM201.8 912.8H217.5V928.5H201.8ZM232.6 912.8H248.2V928.5H232.6ZM102.0 928.2H140.7V943.8H102.0ZM102.0 943.5H125.3V959.2H102.0ZM847.0 989.6H908.7V1005.3H847.0ZM800.9 1005.0H847.3V1020.6H800.9ZM877.7 1005.0H924.1V1020.6H877.7ZM785.5 1020.3H831.9V1036.0H785.5ZM923.8 1020.3H939.4V1036.0H923.8ZM785.5 1035.7H816.5V1051.4H785.5ZM923.8 1035.7H939.4V1051.4H923.8ZM785.5 1051.1H816.5V1066.7H785.5ZM923.8 1051.1H939.4V1066.7H923.8ZM463.0 1066.4H494.0V1082.1H463.0ZM785.5 1066.4H816.5V1082.1H785.5ZM923.8 1066.4H939.4V1082.1H923.8ZM232.6 1081.8H248.2V1097.5H232.6ZM447.6 1081.8H478.6V1097.5H447.6ZM555.1 1081.8H601.5V1097.5H555.1ZM800.9 1081.8H816.5V1097.5H800.9ZM862.3 1081.8H924.1V1097.5H862.3ZM247.9 1097.2H278.9V1112.8H247.9ZM432.2 1097.2H632.2V1112.8H432.2ZM816.2 1097.2H862.6V1112.8H816.2ZM969.8 1097.2H1031.6V1112.8H969.8ZM247.9 1112.5H263.6V1128.2H247.9ZM386.2 1112.5H662.9V1128.2H386.2ZM969.8 1112.5H1108.4V1128.2H969.8ZM401.5 1127.9H693.7V1143.5H401.5ZM923.8 1127.9H939.4V1143.5H923.8ZM954.5 1127.9H1154.5V1143.5H954.5ZM401.5 1143.2H709.0V1158.9H401.5ZM831.6 1143.2H862.6V1158.9H831.6ZM908.4 1143.2H1031.6V1158.9H908.4ZM1077.4 1143.2H1123.7V1158.9H1077.4ZM1138.8 1143.2H1154.5V1158.9H1138.8ZM416.9 1158.6H693.7V1174.3H416.9ZM847.0 1158.6H862.6V1174.3H847.0ZM908.4 1158.6H1031.6V1174.3H908.4ZM1092.7 1158.6H1139.1V1174.3H1092.7ZM447.6 1174.0H693.7V1189.6H447.6ZM847.0 1174.0H862.6V1189.6H847.0ZM908.4 1174.0H1000.9V1189.6H908.4ZM463.0 1189.3H678.3V1205.0H463.0ZM847.0 1189.3H878.0V1205.0H847.0ZM893.0 1189.3H954.8V1205.0H893.0ZM432.2 1204.7H678.3V1220.4H432.2ZM831.6 1204.7H878.0V1220.4H831.6ZM1246.3 1204.7H1323.4V1220.4H1246.3ZM463.0 1220.1H662.9V1235.7H463.0ZM800.9 1220.1H893.3V1235.7H800.9ZM1246.3 1220.1H1277.3V1235.7H1246.3ZM493.7 1235.4H509.3V1251.1H493.7ZM570.5 1235.4H586.1V1251.1H570.5ZM631.9 1235.4H662.9V1251.1H631.9ZM800.9 1235.4H908.7V1251.1H800.9ZM1246.3 1235.4H1277.3V1251.1H1246.3ZM1323.1 1235.4H1338.8V1251.1H1323.1ZM555.1 1250.8H570.8V1266.4H555.1ZM800.9 1250.8H893.3V1266.4H800.9ZM1246.3 1250.8H1292.7V1266.4H1246.3ZM1323.1 1250.8H1338.8V1266.4H1323.1ZM570.5 1266.1H586.1V1281.8H570.5ZM816.2 1266.1H878.0V1281.8H816.2ZM1246.3 1266.1H1338.8V1281.8H1246.3ZM816.2 1281.5H847.3V1297.2H816.2ZM1246.3 1281.5H1338.8V1297.2H1246.3ZM1246.3 1296.9H1323.4V1312.5H1246.3ZM1261.7 1312.2H1323.4V1327.9H1261.7ZM1292.4 1327.6H1308.1V1343.3H1292.4Z"/>
<path fill="#9e0142" shape-rendering="crispEdges" d="M102.0 498.0H309.7V513.7H102.0ZM102.0 513.4H309.7V529.0H102.0ZM102.0 528.7H340.4V544.4H102.0ZM102.0 544.1H355.7V559.8H102.0ZM102.0 559.5H355.7V575.1H102.0ZM102.0 574.8H340.4V590.5H102.0ZM102.0 590.2H325.0V605.9H102.0ZM102.0 605.6H309.7V621.2H102.0ZM102.0 620.9H309.7V636.6H102.0ZM102.0 636.3H294.3V651.9H102.0ZM102.0 651.6H278.9V667.3H102.0ZM324.7 651.6H340.4V667.3H324.7ZM102.0 667.0H263.6V682.7H102.0ZM278.6 667.0H340.4V682.7H278.6ZM102.0 682.4H325.0V698.0H102.0ZM102.0 697.7H325.0V713.4H102.0ZM102.0 713.1H294.3V728.8H102.0ZM102.0 728.5H263.6V744.1H102.0ZM102.0 743.8H248.2V759.5H102.0ZM102.0 759.2H186.8V774.8H102.0ZM102.0 774.5H186.8V790.2H102.0ZM102.0 789.9H186.8V805.6H102.0ZM102.0 805.3H186.8V820.9H102.0ZM171.1 820.6H186.8V836.3H171.1ZM847.0 1005.0H878.0V1020.6H847.0ZM831.6 1020.3H924.1V1036.0H831.6ZM816.2 1035.7H924.1V1051.4H816.2ZM555.1 1051.1H570.8V1066.7H555.1ZM816.2 1051.1H924.1V1066.7H816.2ZM493.7 1066.4H586.1V1082.1H493.7ZM816.2 1066.4H924.1V1082.1H816.2ZM478.3 1081.8H555.4V1097.5H478.3ZM816.2 1081.8H862.6V1097.5H816.2ZM1123.4 1143.2H1139.1V1158.9H1123.4ZM831.6 1158.6H847.3V1174.3H831.6ZM1277.0 1220.1H1323.4V1235.7H1277.0ZM1277.0 1235.4H1323.4V1251.1H1277.0ZM1292.4 1250.8H1323.4V1266.4H1292.4ZM754.8 1343.0H785.8V1358.6H754.8ZM754.8 1358.3H785.8V1366.3H754.8Z"/>
<path d="M409.2 137.0V1366.0M716.4 137.0V1366.0M1023.6 137.0V1366.0M1330.8 137.0V1366.0M102.0 1212.4H1638.0M102.0 1058.8H1638.0M102.0 905.1H1638.0M102.0 751.5H1638.0M102.0 597.9H1638.0M102.0 444.2H1638.0M102.0 290.6H1638.0" fill="none" stroke="#b0b0b0" stroke-opacity="0.55" stroke-width="1.25" stroke-dasharray="4.6 2"/>
<path d="M903.8 118.6L900.7 127.8L899.2 143.1L888.4 155.4L873.1 169.3L870.0 161.6L857.7 155.4L853.1 147.8L856.2 160.0L860.8 167.7L866.9 173.9L868.5 186.2L863.9 198.4L851.6 213.8L840.8 224.6L839.3 220.0L843.9 204.6L842.4 192.3L833.1 186.2L830.1 170.8L836.2 158.5L839.3 150.8L828.5 157.0L823.9 167.7L823.9 183.1L828.5 195.4L811.6 189.2L802.4 186.2L820.8 198.4L830.1 210.7L814.7 201.5L830.1 220.0L817.8 223.0L830.1 230.7L839.3 232.2L840.8 241.5L847.0 253.8L854.6 269.1L854.6 282.9L839.3 287.6L823.9 299.8L808.6 300.8L793.2 309.1L779.4 325.3L762.5 325.3L747.1 336.7L741.0 345.9L728.7 355.1L719.5 361.3L704.1 370.5L691.8 379.7L682.6 392.0L676.5 407.4L673.4 422.7L673.4 435.0L678.0 450.4L685.7 468.8L694.9 487.3L699.5 491.9L698.0 502.6L705.6 521.1L713.3 539.5L714.9 554.9L712.7 573.3L707.2 585.6L702.6 591.7L688.8 593.3L681.1 587.1L674.9 573.3L661.1 564.1L656.5 551.8L651.9 539.5L644.2 536.4L638.1 524.1L633.5 516.5L641.1 508.8L630.4 505.7L633.5 490.3L635.0 478.0L630.4 470.4L621.2 465.8L612.0 453.5L602.7 444.2L593.5 441.2L582.8 442.7L581.2 447.3L562.8 455.0L552.0 453.5L550.5 447.3L541.3 439.6L525.9 433.5L513.6 432.0L495.2 434.1L482.9 436.0L470.6 437.2L470.6 424.3L473.7 432.0L458.4 433.5L443.0 432.0L430.7 435.0L421.5 439.6L427.6 442.7L426.1 450.4L433.8 462.7L438.4 470.4L427.6 476.5L423.0 467.3L409.2 470.4L400.0 471.9L387.7 473.4L378.5 468.8L367.7 464.2L353.9 459.6L341.6 458.1L329.3 456.5L310.9 451.3L290.9 453.5L274.0 461.1L263.3 464.2L264.8 451.9L257.1 453.5L258.7 465.8L252.5 471.9L237.2 482.7L218.7 491.9L206.4 499.6L194.2 510.3L184.9 527.2L181.9 542.6L189.6 568.1L178.8 588.7L171.1 613.2L169.6 644.0L171.1 668.5L168.0 682.4L181.9 705.4L184.9 723.8L206.4 754.6L220.3 776.1L231.0 788.4L255.6 796.1L271.0 807.7L286.3 803.7L317.0 799.1L335.5 793.0L352.4 793.9L366.2 786.8L378.5 779.2L387.7 766.9L393.8 751.5L395.4 733.1L400.0 720.8L418.4 711.6L446.1 706.9L467.6 702.3L489.1 703.9L499.8 703.9L507.5 714.6L504.4 730.0L489.1 745.4L486.0 763.8L478.3 785.3L475.2 803.7L464.5 799.1L461.4 819.1L463.0 843.7L452.2 862.1L443.0 877.5L461.4 883.6L473.7 878.4L486.0 880.5L504.4 881.2L532.1 878.1L562.8 875.0L581.2 879.0L599.7 892.8L616.6 905.1L612.0 926.6L608.9 951.2L607.3 972.7L602.7 991.2L602.7 1009.6L599.7 1028.0L605.8 1037.2L615.0 1052.6L630.4 1069.5L648.8 1083.3L661.1 1091.0L679.5 1095.6L701.0 1086.4L719.5 1078.7L731.8 1071.0L750.2 1075.6L777.8 1080.3L796.3 1098.7L808.6 1112.5L813.2 1101.8L827.0 1092.5L836.2 1080.3L848.5 1074.1L851.6 1052.6L860.8 1037.2L873.1 1026.5L894.6 1018.8L922.2 1018.8L940.7 1006.5L956.0 997.3L971.4 983.5L983.7 989.6L980.6 1003.4L963.7 1011.1L974.4 1028.0L965.2 1052.6L977.5 1080.3L992.9 1064.9L986.7 1040.3L977.5 1029.6L992.9 1018.8L1014.4 1009.6L1020.5 991.2L1029.7 1008.1L1039.0 1012.7L1060.5 1015.7L1075.8 1031.1L1078.9 1040.3L1100.4 1043.4L1118.8 1040.3L1140.3 1040.3L1149.6 1049.5L1174.1 1055.7L1192.6 1052.6L1201.8 1043.4L1223.3 1038.8L1247.9 1037.2L1272.4 1036.6L1257.1 1041.9L1241.7 1043.4L1244.8 1049.5L1254.0 1052.6L1263.2 1061.8L1281.6 1063.4L1300.1 1074.1L1306.2 1086.4L1303.2 1101.8L1324.7 1104.8L1336.9 1111.0L1358.4 1120.2L1376.9 1141.7L1386.1 1155.5L1407.6 1172.4L1419.9 1183.2L1438.3 1184.7L1456.8 1184.7L1478.3 1183.2L1499.8 1184.7L1515.1 1187.8L1518.2 1190.9L1545.8 1197.0L1567.3 1215.4L1582.7 1227.7L1591.9 1237.0L1604.2 1246.2L1616.5 1298.4L1638.0 1313.8L1641.1 1335.3L1628.8 1356.8L1613.4 1362.9L1628.8 1369.1M95.9 840.6L105.1 848.3L132.7 856.0L163.4 871.3L194.2 877.5L215.7 883.6L240.2 874.4L255.6 868.3L277.1 869.8L289.4 875.9L310.9 889.8L326.3 905.1L341.6 920.5L360.0 935.9L378.5 938.9L400.0 940.5L415.3 949.7L433.8 954.3L455.3 962.0L473.7 960.4L479.9 954.3L489.1 966.6L481.4 969.6L495.2 981.9L510.6 994.2L529.0 1012.7L541.3 1025.0L536.7 1031.1L542.8 1049.5L536.7 1058.8L553.6 1064.9L565.9 1064.9L562.8 1055.7L572.0 1061.8L575.1 1071.0L590.4 1078.7L602.7 1087.9L605.8 1104.8L615.0 1107.9L619.6 1101.8L627.3 1114.1L630.4 1118.7L648.8 1112.5L664.2 1118.7L679.5 1132.5L688.8 1144.8L704.1 1143.2L716.4 1135.6L704.1 1120.2L713.3 1109.4L725.6 1097.2L731.8 1089.5L747.1 1089.5L762.5 1101.8L771.7 1111.0L765.6 1118.7L774.8 1135.6L780.9 1144.8L796.3 1163.2L796.3 1193.9L799.3 1227.7L805.5 1246.2L793.2 1264.6L774.8 1289.2L759.4 1295.3L753.3 1310.7L750.2 1323.0L731.8 1338.3L716.4 1341.4L713.3 1366.0L704.1 1375.2M564.3 694.7L578.2 690.1L584.3 677.8L612.0 662.4L630.4 659.3L642.7 654.7L667.2 656.3L679.5 654.7L698.0 657.8L716.4 662.4L737.9 677.8L756.3 677.8L777.8 680.8L793.2 693.1L805.5 700.8L823.9 713.1L848.5 717.7L851.6 730.0L876.1 731.5L896.1 743.8L891.5 750.0L866.9 754.6L845.4 753.0L833.1 752.1L808.6 754.6L787.1 756.7L802.4 739.2L805.5 733.1L780.9 730.0L762.5 720.8L759.4 703.9L737.9 702.3L716.4 697.7L701.0 688.5L679.5 683.9L661.1 683.9L648.8 677.8L630.4 668.5L612.0 683.9L593.5 693.1L578.2 696.2L564.3 694.7M624.2 693.1L636.5 696.2L636.5 705.4L624.2 706.9L618.1 702.3L624.2 693.1M767.1 803.7L771.7 799.1L787.1 797.6L805.5 800.7L817.8 805.3L833.1 813.0L830.1 817.6L811.6 817.6L802.4 822.2L787.1 817.6L774.8 806.8L767.1 803.7M886.9 802.2L897.6 793.0L919.2 796.1L937.6 799.1L951.4 796.1L940.7 779.2L919.2 760.7L922.2 754.6L937.6 753.0L962.2 759.2L971.4 754.6L992.9 754.6L1008.2 759.2L1026.7 762.3L1035.9 773.0L1048.2 773.0L1054.3 782.2L1066.6 791.4L1074.3 794.5L1065.1 806.8L1054.3 800.7L1026.7 799.1L1017.5 805.3L1005.2 803.7L989.8 808.3L980.6 825.2L971.4 813.0L959.1 806.8L937.6 808.3L919.2 805.3L906.9 811.4L886.9 802.2M1108.1 799.1L1131.1 798.2L1157.2 802.2L1154.2 813.0L1134.2 814.5L1109.6 814.5L1108.1 799.1M771.7 593.3L780.9 593.3L787.1 613.2L784.0 628.6L771.7 616.3L767.1 604.0L771.7 593.3M748.7 545.6L777.8 545.0L780.9 550.3L750.2 550.3L748.7 545.6M784.0 539.5L804.0 550.3L808.6 567.1L799.3 570.2L802.4 557.9L793.2 544.1M814.7 582.5L830.1 588.7L834.7 604.0L833.1 607.1M847.0 608.6L857.7 619.4L859.2 624.0M860.8 640.9L870.0 653.2L874.6 662.4M890.0 665.5L900.7 668.5L903.8 674.7M909.9 716.2L925.3 720.8L928.4 711.6L913.0 713.1M959.1 693.1L974.4 696.2L977.5 699.3M839.3 640.9L845.4 644.0M1272.4 1057.2L1284.7 1057.2L1300.1 1054.1L1303.2 1034.2L1280.1 1037.2L1284.7 1049.5L1272.4 1057.2M1275.5 865.2L1293.9 866.7L1283.2 874.4L1275.5 865.2M1286.3 886.7L1292.4 895.9L1287.8 897.4L1286.3 886.7M1293.9 909.7L1304.7 917.4L1300.1 922.0L1293.9 909.7M1298.5 934.3L1303.2 942.0L1298.5 943.5L1298.5 934.3M1292.4 955.8L1295.5 962.0L1292.4 955.8M1341.6 957.4L1347.7 963.5L1343.1 965.0L1341.6 957.4M1277.0 991.2L1281.6 997.3L1277.0 991.2M1272.4 839.1L1278.6 843.7L1272.4 839.1M1243.2 831.4L1252.5 839.1L1243.2 831.4M1235.6 809.9L1238.6 813.0M1180.3 802.2L1189.5 803.7M1180.3 820.6L1189.5 822.2M1049.7 991.2L1062.0 995.8M1022.1 978.9L1026.7 983.5M1072.8 988.1L1078.9 995.8M1195.6 1028.0L1214.1 1026.5L1211.0 1031.1L1195.6 1028.0M1306.2 1018.8L1313.9 1021.9M502.9 736.1L509.0 740.7M513.6 863.6L522.9 862.1M853.1 284.5L842.4 287.6L833.1 292.2M744.0 1107.9L750.2 1111.0M659.6 1135.6L664.2 1138.6" fill="none" stroke="#000" stroke-width="2.2" stroke-linejoin="round"/><path d="M189.6 568.1L157.3 564.1L129.6 554.9L117.4 521.1L92.8 493.4M341.6 920.5L341.6 902.1L357.0 872.9L395.4 872.2L395.4 859.0L366.2 836.0L378.5 836.0L378.5 818.5L435.3 818.5L435.3 877.5L443.0 877.5M435.3 818.5L461.4 799.1M435.3 877.5L433.8 902.1L429.2 922.0L406.1 943.5M429.2 922.0L455.3 937.4L476.8 938.9L479.9 954.3M489.1 966.6L507.5 957.4L529.0 935.9L562.8 917.4L578.2 914.3L616.6 905.1M541.3 1025.0L572.0 1026.5L596.6 1035.7L605.8 1031.1M627.3 1114.1L627.3 1086.4L636.5 1072.6M796.3 1098.7L802.4 1123.3L780.9 1144.8M983.7 989.6L952.9 1025.0L934.5 1058.8L949.9 1107.9L962.2 1150.9L1020.5 1150.9L1042.0 1178.6L1100.4 1175.5L1091.2 1227.7L1106.5 1295.3L1118.8 1329.1M1118.8 1329.1L1029.7 1313.8L1029.7 1332.2L1048.2 1335.3L1022.1 1350.6L1022.1 1372.1M750.2 1323.0L777.8 1338.3L796.3 1353.7L830.1 1353.7L860.8 1369.1M1303.2 1101.8L1293.9 1104.8L1287.8 1183.2L1309.3 1206.2L1330.8 1209.3L1333.9 1227.7L1343.1 1246.2L1330.8 1283.0L1361.5 1326.1L1392.2 1319.9L1413.7 1306.1L1438.3 1307.6L1453.7 1295.3L1484.4 1287.7L1499.8 1295.3L1521.3 1293.8L1548.9 1298.4L1585.8 1243.1M1333.9 1227.7L1309.3 1227.7L1287.8 1230.8L1247.9 1243.1L1238.6 1255.4L1201.8 1240.0L1198.7 1261.5L1207.9 1304.5L1161.8 1341.4L1118.8 1329.1M1419.9 1183.2L1413.7 1203.2L1395.3 1218.5L1395.3 1261.5L1413.7 1264.6L1413.7 1306.1M1515.1 1187.8L1499.8 1215.4L1515.1 1255.4L1499.8 1295.3M969.8 760.7L971.4 779.2L962.2 794.5L969.8 811.4" fill="none" stroke="#000" stroke-width="0.9" stroke-linejoin="round"/>
<path d="M102.0 418.4L118.0 415.0L132.0 411.0L148.0 397.0L164.0 396.0L176.0 398.0L194.0 410.0L210.0 409.0L226.0 416.0L242.0 420.6L262.0 418.0L286.0 415.0L294.0 411.0L322.0 408.0L362.0 405.6L378.0 411.4L402.0 410.0L432.0 407.0L454.0 407.0L470.0 412.0L484.0 419.0L498.0 422.0L502.4 423.9L515.8 423.3L524.7 426.1L541.3 432.2L558.0 435.6L578.0 433.3L593.6 435.6L609.1 434.4L616.9 440.0L623.6 446.7L635.8 451.1L655.8 454.4L660.2 458.9L661.3 466.7L658.0 475.6L662.4 490.0L658.0 500.0L653.6 511.1L651.3 520.0L654.7 527.8L661.3 533.3L669.1 536.1L678.0 536.7L682.0 537.0L702.0 535.0L710.0 552.0L713.0 570.0L728.0 573.0L748.0 566.0L764.0 572.0L778.0 580.0L784.0 596.0L790.0 602.0L804.0 607.0L816.0 610.0L806.0 615.0L786.0 614.0L770.0 608.0L756.0 612.0L760.0 622.0L768.0 634.0L778.0 642.0L790.0 648.0L800.0 658.0L794.0 674.0L810.0 678.0L828.0 686.0L838.0 688.0L838.0 689.0L868.0 699.0L892.6 705.6M911.0 709.1L916.0 710.0L934.0 712.0L962.0 713.0L978.0 721.0L980.0 735.0L988.0 739.0L1010.0 741.0L1024.0 750.0L1034.0 743.0L1050.0 732.0L1074.0 727.0L1104.0 722.0L1134.0 718.6L1174.0 720.0L1194.0 727.0L1210.0 723.0L1224.0 725.0L1244.0 720.0L1264.0 717.0L1290.0 717.0L1300.0 727.0L1316.0 719.0L1330.0 734.0L1328.0 741.0L1328.0 751.0L1331.0 761.0L1346.0 755.0L1362.0 751.0L1378.0 755.0L1394.0 762.0L1410.0 775.0L1413.0 795.0L1409.0 812.0L1393.0 815.0L1385.6 828.0L1408.0 839.0L1424.0 858.0L1438.0 854.0L1458.0 843.0L1470.0 839.0L1486.0 830.0L1494.0 827.0L1500.0 822.0L1502.0 829.0L1516.0 837.0L1523.0 844.0L1521.0 871.0L1516.0 890.0L1522.0 903.0L1530.0 912.0L1548.0 912.0L1564.0 917.0L1576.0 923.0L1584.0 921.0L1581.0 906.0L1594.0 902.0L1614.0 905.0L1604.0 921.0L1622.0 920.0L1638.0 908.0L1650.0 901.0M102.0 426.6L132.0 421.0L148.0 413.4L166.0 424.0L194.0 431.0L226.0 432.0L254.0 428.0L282.0 432.0L316.0 431.0L322.0 430.0M342.3 426.8L350.0 425.6L382.0 425.0L412.0 424.0L442.0 425.0L462.0 430.0L480.0 436.6L501.4 445.6L516.8 441.2L548.0 463.8L561.4 456.6L578.0 456.2L593.6 458.8L613.6 475.6L621.4 488.8L626.8 500.0L630.2 511.2L630.2 521.2L622.4 535.6L621.4 560.0L620.0 566.0L628.0 572.0L630.0 584.0L610.0 589.0L600.0 597.0L610.0 601.0L640.0 605.0L664.0 597.0L684.0 593.0L702.0 592.0L706.0 600.0L702.0 615.0L688.0 610.0L674.0 620.0L656.0 638.0L638.0 633.0L618.0 644.0L602.0 658.0L590.0 668.0L582.0 678.0L584.0 688.0L594.0 685.0L618.0 680.6L654.0 683.0L662.0 690.0L664.0 706.0L688.0 711.0L718.0 721.0L740.0 732.0L768.0 737.0L804.0 740.0L822.0 751.0L838.0 745.0L856.0 751.0L870.0 743.0L884.0 741.0L894.0 739.0L914.0 737.0L934.0 738.0L946.0 751.0L948.0 763.0L962.0 785.0L984.0 786.0L994.0 777.0L1008.0 793.0L1024.0 795.0L1046.0 785.0L1051.0 781.0L1048.0 767.0L1060.0 762.0L1084.0 760.0L1114.0 761.0L1146.0 768.0L1174.0 765.0L1194.0 760.0L1208.0 757.0L1232.0 767.0L1239.0 780.0L1254.0 777.0L1268.0 763.0L1280.0 777.0L1284.0 789.0L1290.0 794.0L1302.0 800.0L1320.0 805.0L1335.0 812.0L1325.0 829.0L1326.0 843.0L1331.0 855.0L1347.0 854.0L1356.0 860.0L1360.0 877.0L1364.0 891.0L1365.0 905.0L1376.0 920.0L1392.0 925.0L1399.0 920.0L1384.0 906.0L1385.0 889.0L1392.0 885.0L1404.0 890.0L1412.0 903.0L1417.0 920.0L1424.0 923.0L1438.0 923.0L1454.0 933.0L1470.0 941.0L1486.0 942.0L1500.0 938.0L1512.0 942.0L1524.0 948.0L1540.0 959.0M102.0 449.0L114.0 439.0L132.0 433.0L149.0 429.0L154.0 443.0L168.0 447.0L188.0 445.0L212.0 443.0L242.0 445.0L262.0 448.0L282.0 444.0L302.0 441.0L332.0 439.0L362.0 437.0L392.0 436.0L412.0 440.0L432.0 443.0L446.0 448.0L458.0 450.6L472.4 454.4L485.8 459.4L502.4 458.8L515.8 462.2L524.6 471.2L532.4 479.4L546.8 481.2L563.6 488.8L570.2 497.8L575.8 505.6L591.4 518.8L599.2 535.6L591.4 548.8L585.8 560.0L578.0 574.0L566.0 590.0L552.0 612.0L566.0 620.0L581.0 627.0L574.0 642.0L570.5 646.9M558.7 663.4L554.0 670.0L544.0 688.0L541.0 705.0L548.0 706.0L556.0 700.0L566.0 694.0L578.0 693.0L594.0 688.0L618.0 683.0L622.0 699.0L618.0 719.0L648.0 731.0L678.0 743.0L718.0 751.0L758.0 755.0L788.0 756.0L848.0 766.0L804.0 778.0L792.0 795.0L772.0 799.0L768.0 803.0L786.0 815.0L802.0 821.0L828.0 811.0L830.0 799.0L842.0 791.0L868.0 783.0L894.0 780.0L908.0 763.0L920.0 758.0L934.0 763.0L941.0 775.0L952.0 791.0L966.0 801.0L990.0 812.0L1002.0 803.0L1018.0 815.0L1022.0 831.0L1038.0 832.0L1054.0 823.0L1074.0 811.0L1100.0 800.0L1110.0 803.0L1134.0 807.0L1146.0 821.0L1164.0 825.0L1178.0 843.0L1210.0 855.0L1206.0 875.0L1224.0 889.0L1240.0 887.0L1252.0 873.0L1252.0 855.0L1264.0 851.0L1280.0 857.0L1290.0 863.0L1300.0 883.0L1308.0 903.0L1316.0 919.0L1328.0 935.0L1326.0 934.0L1330.0 960.0L1340.0 968.0L1360.0 973.0L1376.0 982.0L1392.0 984.0L1408.0 982.0L1423.0 996.0L1430.0 982.0L1438.0 980.0L1454.0 991.0L1484.0 993.0L1502.0 1005.0L1516.0 1009.0L1530.0 1006.0L1545.0 996.0L1576.0 999.0L1602.0 1008.0L1622.0 1016.0L1638.0 1025.0L1650.0 1030.0M102.0 461.0L122.0 462.0L148.0 465.0L182.0 461.0L212.0 464.0L242.0 465.0L262.0 461.0L282.0 454.0L302.0 451.0L322.0 450.0L352.0 448.0L382.0 452.0L402.0 456.0L422.0 460.0L442.0 466.0L458.0 473.4L469.2 470.0L485.8 470.6L502.4 471.2L510.2 477.8L520.2 490.0L535.8 503.4L542.4 512.2L546.8 523.4L561.4 528.8L569.2 537.8L571.4 548.8L564.6 555.6L558.0 566.0L546.0 578.0L534.0 588.0L518.0 595.0L498.0 602.0L491.7 619.2L479.2 642.8L491.7 667.8L506.9 692.8L504.2 705.3L494.4 712.2L479.2 721.9L471.5 735.8L463.9 720.6L470.8 709.4L477.8 688.6L470.1 686.5L461.1 690.7L454.2 701.1L444.4 713.6L433.3 720.6L441.7 730.3L448.6 735.8L438.9 740.0L427.8 758.1L422.2 767.8L411.1 781.7L395.8 790.0L386.1 803.9L377.8 819.2L369.4 834.4L362.5 840.0L335.0 846.0L312.0 853.0L299.0 857.0L335.0 880.0L369.0 904.0L402.0 934.0L415.4 939.3M434.6 946.8L435.0 947.0L469.0 957.0L500.0 968.0L519.0 980.0L545.0 1004.0L569.0 1036.0L602.0 1065.0L635.0 1086.0L655.0 1097.0L664.0 1100.0L680.0 1089.0L670.0 1082.0L658.0 1076.0L648.0 1056.0L634.0 1046.0L616.0 1026.0L610.0 1006.0L618.0 992.0L626.0 976.0L618.0 962.0L632.6 947.4M632.6 947.4L633.5 946.5M633.5 946.5L634.0 946.0L634.1 944.6M634.1 944.6L635.3 932.8M635.3 932.8L636.0 926.0L635.1 931.3M635.1 931.3L632.6 947.4M632.6 947.4L632.0 951.0L633.5 946.5M633.5 946.5L634.1 944.6M634.1 944.6L636.0 939.0L635.3 932.8M635.3 932.8L635.1 931.3M635.1 931.3L634.0 921.0L638.0 909.0L656.0 913.0L678.0 901.0L702.0 889.0L718.0 877.0L732.0 871.0L747.0 859.0L724.0 843.0L716.0 837.0L686.0 841.0L678.0 827.0L718.0 821.0L738.0 809.0L766.0 807.0L790.0 821.0L810.0 822.0L836.0 828.0L826.0 842.0L838.0 849.0L868.0 855.0L894.0 855.0L902.0 858.0L924.0 853.0L954.0 849.0L978.0 849.0L1004.0 860.0L1024.0 864.0L1054.0 866.0L1074.0 857.0L1101.0 844.0L1114.0 859.0L1116.0 864.0L1141.0 874.0L1134.0 889.0L1123.0 905.0L1128.0 923.0L1132.0 933.0L1154.0 938.0L1174.0 937.0L1192.0 942.0L1208.0 933.0L1224.0 932.0L1234.0 943.0L1238.0 951.0L1228.0 966.0L1240.0 980.0L1268.0 984.0L1290.0 986.0L1304.0 998.0L1310.0 1014.0L1330.0 1019.0L1348.0 1024.0L1366.0 1041.0L1378.0 1052.0L1392.0 1047.0L1408.0 1045.6L1426.0 1028.0L1439.0 1022.0L1456.0 1028.0L1458.0 1043.0L1476.0 1058.0L1476.0 1074.0L1500.0 1081.0L1516.0 1069.0L1530.0 1073.0L1544.0 1074.0L1570.0 1084.0L1592.0 1095.0L1614.0 1089.0L1638.0 1087.0L1650.0 1086.0M102.0 476.0L132.0 479.0L172.0 480.0L202.0 477.0L232.0 473.0L262.0 470.0L282.0 469.0L294.0 462.0L312.0 458.0L328.0 460.0L348.0 466.0L372.0 474.0L392.0 478.0L414.0 480.0L442.0 488.0L462.0 497.0L483.6 505.0L485.8 521.6L501.4 507.8L519.2 520.6L506.0 540.0L494.6 551.2L506.0 568.0L510.0 582.0L498.0 590.0L484.0 602.0L468.0 612.0L452.0 626.0L440.0 640.0L433.3 642.8L438.9 659.4L433.3 676.1L422.2 692.8L411.1 712.2L402.8 737.2L395.8 753.9L390.3 771.9L381.9 787.2L369.4 808.1L366.7 820.6L355.6 831.7L330.0 836.0L300.0 842.0L270.0 845.0L235.0 843.0L215.0 850.0L215.0 860.0L220.5 860.9M238.7 863.8L240.0 864.0L270.0 862.0L292.0 865.0L296.3 861.2L332.2 884.2L365.9 907.9L399.3 938.2L433.4 951.7L467.5 961.8L497.9 972.5L515.9 983.9L541.3 1007.3L560.5 1033.0M574.8 1047.8L599.0 1069.0L632.4 1090.3L652.6 1101.4L650.0 1102.0L672.0 1107.0L698.0 1100.0L718.0 1092.0L710.0 1082.0L700.0 1066.0L690.0 1044.0L694.0 1026.0L691.0 996.0L698.0 984.0L708.0 976.0L738.0 966.0L762.0 948.0L778.0 952.0L808.0 956.0L836.0 951.0L828.0 942.0L807.0 935.0L826.0 934.0L826.0 933.0L838.0 919.0L848.0 905.0L870.0 891.0L894.0 891.0L902.0 893.0L910.0 883.0L924.0 876.0L944.0 873.0L964.0 877.0L984.0 885.0L1004.0 891.0L1024.0 896.0L1040.0 895.0L1052.0 905.0L1056.0 919.0L1066.0 927.0L1080.0 935.0L1082.0 951.0L1080.0 934.0L1084.0 954.0L1114.0 964.0L1146.0 993.0L1178.0 989.0L1198.0 1010.0L1214.0 1034.0L1224.0 1054.0L1230.0 1062.0L1210.0 1074.0L1230.0 1084.0L1254.0 1090.0L1268.0 1110.0L1270.0 1120.0L1252.0 1134.0L1244.0 1150.0L1250.0 1166.0L1270.0 1182.0L1290.0 1174.0L1300.0 1186.0L1316.0 1200.0L1330.0 1190.0L1342.0 1196.0L1348.0 1210.0L1364.0 1196.0L1372.0 1184.0L1374.0 1166.0L1378.0 1144.0L1370.0 1134.0L1356.0 1120.0L1340.0 1108.0L1345.0 1102.0L1376.0 1091.0L1392.0 1089.0L1408.0 1098.0L1426.0 1093.0L1438.0 1098.0L1454.0 1092.0L1464.0 1105.0L1478.0 1103.0L1498.0 1103.0L1516.0 1110.0L1522.0 1120.0L1518.0 1134.0L1530.0 1150.0L1546.0 1167.0L1561.0 1154.0L1578.0 1153.0L1592.0 1151.0L1596.8 1150.0M1613.8 1146.6L1622.0 1145.0L1638.0 1148.0L1650.0 1150.0M1418.0 1190.0L1430.0 1195.0L1456.0 1196.0L1469.0 1198.0L1484.0 1142.0L1486.0 1148.0L1502.0 1156.0L1516.0 1170.0L1520.0 1182.0L1512.0 1200.0L1546.0 1209.0L1554.0 1227.0L1578.0 1251.0L1594.0 1252.0L1599.0 1269.0L1590.0 1287.0L1570.0 1299.0L1566.0 1317.0L1574.0 1337.0L1592.0 1351.0L1602.0 1341.0L1608.0 1333.0L1622.0 1339.0L1650.0 1335.0L1650.0 1377.0L1490.0 1377.0L1470.0 1343.0L1452.0 1339.0L1450.0 1319.0L1422.0 1313.0L1408.0 1297.0L1390.0 1275.0L1394.0 1269.0L1410.0 1269.0L1423.0 1283.0L1434.0 1273.0L1442.0 1259.0L1439.0 1249.0L1426.0 1243.0L1430.0 1229.0L1424.0 1222.0L1408.0 1225.0L1392.0 1237.0L1378.0 1243.0L1356.0 1229.0L1348.0 1213.0L1366.0 1197.0L1374.0 1167.0L1378.0 1155.0L1394.0 1159.0L1406.0 1172.0L1418.0 1190.0M896.0 1255.0L878.0 1263.0L858.0 1277.0L838.0 1291.0L826.0 1313.0L814.0 1337.0L802.0 1365.0L798.0 1381.0L1060.0 1381.0L1058.0 1365.0L1056.0 1351.0L1054.0 1333.0L1034.0 1321.0L1030.0 1307.0L1024.0 1289.0L1032.0 1269.0L1038.0 1253.0L1042.0 1241.0L1024.0 1247.0L1006.0 1248.0L978.0 1241.0L963.0 1249.0L954.0 1239.0L946.0 1225.0L928.0 1220.0L917.6 1223.7M904.0 1227.8L900.0 1229.0L896.0 1255.0M896.0 1269.0L895.1 1269.3M895.1 1269.3L878.0 1275.0L858.0 1289.0L842.0 1301.0L830.0 1321.0L820.0 1343.0L810.0 1365.0L808.0 1381.0L916.0 1381.0L918.0 1365.0L924.0 1351.0L916.0 1335.0L914.0 1321.0L920.0 1301.0L931.0 1290.0L948.0 1288.0L930.0 1287.0L918.0 1270.0L906.0 1272.0L895.1 1269.3M895.1 1269.3L894.0 1269.0L896.0 1269.0M1290.0 1106.0L1310.0 1102.0L1326.0 1101.0L1340.0 1108.0L1356.0 1120.0L1370.0 1134.0L1378.0 1144.0L1374.0 1166.0L1372.0 1184.0L1364.0 1196.0L1348.0 1210.0L1342.0 1196.0L1330.0 1190.0L1316.0 1200.0L1310.0 1192.0L1320.0 1182.0L1317.2 1175.0M1309.5 1155.9L1308.0 1152.0L1298.0 1126.0L1290.0 1106.0M1054.0 1000.0L1034.0 1024.0L1032.0 1044.0L1056.0 1059.0L1080.0 1044.0L1076.3 1031.5M1074.7 1026.2L1074.0 1024.0L1054.0 1000.0M1140.0 1031.0L1148.0 1028.0L1170.0 1054.0L1164.0 1064.0L1146.0 1068.0L1116.0 1060.0L1114.0 1056.0L1119.0 1051.2M1133.6 1037.1L1140.0 1031.0M1116.0 1248.0L1134.0 1251.0L1146.0 1257.0L1143.0 1271.0L1148.0 1281.0L1160.0 1272.0L1178.0 1274.0L1176.0 1293.0L1154.0 1317.0L1140.0 1334.0L1114.0 1323.0L1102.0 1317.0L1132.0 1307.0L1132.0 1289.0L1114.0 1285.0L1102.0 1271.0L1116.0 1248.0M102.0 484.0L142.0 487.0L182.0 485.0L222.0 480.0L262.0 477.0L282.0 478.0L302.0 475.0L318.0 475.0L348.0 476.0L362.0 484.0L382.0 494.0L402.0 499.0L422.0 503.0L436.0 506.0L432.0 530.0L427.0 552.0L440.0 565.0L462.0 566.0L472.0 572.0L490.0 582.0L482.0 592.0L462.0 602.0L446.0 614.0L432.0 628.0L414.0 646.0L412.8 647.5M412.8 647.5L398.0 666.0L393.0 684.3M393.0 684.3L392.0 688.0L392.6 686.8M392.6 686.8L412.8 647.5M412.8 647.5L416.7 640.0L400.0 659.4L394.4 674.7L393.0 684.3M393.0 684.3L392.6 686.8M392.6 686.8L390.3 702.5L383.3 730.3L373.6 753.9L365.3 766.4L368.1 785.8L355.6 795.6L354.2 803.9L348.6 827.5L316.7 828.9L300.0 816.4L282.0 807.0L270.0 807.0L254.0 803.0L242.0 817.0L226.0 821.0L210.0 817.0L202.0 809.0L194.0 815.0L170.0 822.0L140.0 828.0L115.0 838.0L112.0 848.0L135.0 864.0L170.0 870.0L200.0 879.0L230.0 877.0L260.0 880.0L285.0 876.0L293.1 866.3L328.9 889.1L340.0 926.0L328.0 938.0L312.0 952.0L282.0 974.0L262.0 996.0L260.0 1022.0L259.0 1043.0L278.0 1058.0L281.0 1074.0L294.0 1090.0L306.0 1104.0L318.0 1111.0L332.0 1110.0L352.0 1102.0L382.0 1097.0L402.0 1090.0L402.0 1074.0L406.0 1062.0L413.0 1044.0L432.0 1026.0L454.0 1004.0L471.0 999.0L485.0 1013.0L486.0 1026.0L498.0 1034.0L518.0 1035.0L534.0 1044.0L550.0 1046.0L562.0 1044.0L537.5 1010.7L561.7 1042.8L596.0 1073.0L629.8 1094.6L650.2 1105.8L646.0 1103.0L670.0 1116.0L698.0 1117.0L714.0 1107.0L724.0 1100.0L732.0 1104.0L746.0 1088.0L764.0 1074.0L750.0 1056.0L739.0 1042.0L746.0 1026.0L756.0 1012.0L778.0 1000.0L808.0 986.0L838.0 978.0L868.0 974.0L894.0 978.0L920.0 980.0L910.0 1012.0L922.0 1018.0L945.3 1004.5M937.8 974.6L932.0 969.0L960.0 950.0L992.0 963.0L1026.0 966.0L992.0 972.0L974.0 998.0L984.0 1012.0L1022.0 1014.0L994.0 1066.0L1024.0 1066.0L1038.0 1056.0L1056.0 1073.0L1098.0 1060.0L1120.0 1080.0L1160.0 1096.0L1194.0 1082.0L1203.0 1106.0L1198.0 1120.0L1222.0 1136.0L1210.0 1144.0L1178.0 1135.0L1169.0 1150.0L1174.0 1172.0L1182.0 1192.0L1177.2 1200.4M1177.2 1200.4L1174.0 1206.0L1184.0 1197.0L1177.2 1200.4M1177.2 1200.4L1162.0 1208.0L1148.0 1193.0L1126.0 1211.0L1116.0 1227.0L1108.0 1211.0L1122.0 1197.0L1086.0 1181.0L1058.0 1182.0L1026.0 1205.0L1010.0 1211.0L994.0 1203.0L962.0 1219.0L944.0 1203.0L914.0 1207.0L900.0 1205.0L894.0 1226.0L894.0 1247.0L878.0 1256.0L858.0 1269.0L838.0 1283.0L822.0 1307.0L810.0 1333.0L798.0 1357.0L792.0 1381.0M92.0 1039.0L117.0 1048.0L134.0 1028.0L143.0 1024.0L149.2 1020.2M177.6 1002.7L182.0 1000.0L211.0 999.0L214.0 1013.0L211.0 1030.0L212.0 1044.0L202.0 1054.0L182.0 1062.0L162.0 1078.0L148.0 1085.0L132.0 1078.0L116.0 1074.0L92.0 1062.0L92.0 1039.0M92.0 1307.0L118.0 1305.0L134.0 1293.0L143.0 1292.0L148.9 1292.3M180.7 1293.8L186.0 1294.0L198.0 1289.0L210.0 1274.0L226.0 1273.0L241.0 1276.0L272.0 1263.0L286.0 1263.0L305.0 1274.0L300.0 1289.0L302.0 1303.0L332.0 1321.0L348.0 1303.0L361.0 1320.0L358.0 1335.0L348.0 1348.0L332.0 1346.0L317.0 1348.0L286.0 1343.0L280.0 1335.0L276.0 1319.0L272.0 1317.0L258.0 1326.0L248.0 1335.0L244.0 1347.0L240.0 1354.0L226.0 1360.0L222.0 1377.0L92.0 1377.0L92.0 1307.0M720.0 1321.0L738.0 1293.0L764.0 1279.0L790.0 1271.0L798.0 1273.0L794.0 1297.0L782.0 1317.0L768.0 1335.0L748.0 1347.0L728.0 1357.0L718.0 1377.0L686.0 1377.0L690.0 1347.0L682.0 1334.0L685.3 1334.3M717.5 1327.7L720.0 1321.0M738.2 1326.7L758.0 1297.0L778.0 1285.0L786.0 1297.0L774.0 1317.0L758.0 1335.0L749.0 1339.5M736.6 1347.0L724.0 1365.0L702.0 1365.0L714.0 1343.0L729.7 1332.6M812.0 1147.6L814.0 1149.0L818.0 1163.0L826.0 1181.0L824.0 1201.0L816.0 1197.0L810.0 1185.0L806.0 1171.0L804.6 1160.8M92.0 489.0L132.0 492.0L172.0 492.0L198.0 488.0L222.0 485.0L242.0 484.0L282.0 486.0L312.0 486.0L336.0 489.0L348.0 500.0L362.0 520.0L382.0 525.0L394.0 529.0L398.0 536.0L382.0 556.0L370.0 568.0L372.0 584.0L382.0 596.0L388.0 616.0L396.0 628.0L382.0 650.0L368.0 666.0L356.0 688.0L348.0 713.0L340.0 733.0L335.0 753.0L332.0 772.0L329.0 751.0L317.0 748.0L302.0 756.0L286.0 763.0L272.0 770.0L262.0 781.0L250.0 787.0L230.0 791.0L208.0 793.0L196.0 803.0L192.0 815.0L186.0 835.0L180.0 839.0L162.0 833.0L132.0 821.0L118.0 823.0L110.0 843.0L132.0 871.0L166.0 875.0L210.0 885.0L232.0 889.0L242.0 886.0L246.0 903.0L242.0 925.0L232.0 917.0L210.0 921.0L192.0 915.0L178.0 919.0L150.0 897.0L132.0 895.0L122.0 903.0L144.0 921.0L136.7 937.4M136.7 937.4L136.0 939.0L130.7 946.9M130.7 946.9L128.0 951.0L130.5 947.1M130.5 947.1L136.7 937.4M136.7 937.4L144.0 926.0L140.0 934.0L132.0 946.0L130.7 946.9M130.7 946.9L130.5 947.1M130.5 947.1L118.0 956.0L92.0 961.0L92.0 489.0M500.0 1054.0L482.0 1064.0L462.0 1074.0L442.0 1090.0L424.0 1108.0L402.0 1114.0L387.0 1120.0L398.0 1138.0L407.0 1150.0L410.0 1166.0L422.0 1174.0L440.0 1180.0L452.0 1190.0L462.0 1197.0L446.0 1204.0L432.0 1214.0L440.0 1223.0L456.0 1221.0L466.0 1229.0L471.0 1235.0L486.0 1238.0L494.0 1243.0L498.0 1245.0L498.0 1247.0L518.0 1238.0L544.0 1241.0L563.0 1233.0L570.0 1242.0L546.0 1255.0L548.0 1258.0L579.0 1280.0L582.0 1275.0L576.0 1261.0L579.0 1253.0L586.0 1239.0L608.0 1232.0L628.0 1241.0L640.0 1248.0L658.0 1243.0L654.0 1229.0L656.0 1219.0L670.0 1215.0L678.0 1201.0L690.0 1189.0L698.0 1171.0L709.0 1150.0L690.0 1137.0L684.0 1123.0L674.0 1135.0L662.0 1119.0L646.0 1109.0L638.6 1106.1M609.1 1094.4L598.0 1086.0L578.0 1075.0L558.0 1070.0L538.0 1066.0L518.0 1064.0L498.0 1062.0L500.0 1054.0M782.0 1046.0L786.0 1026.0L806.0 1010.0L838.0 998.0L868.0 992.0L898.0 994.0L924.0 1012.0L938.0 1038.0L934.0 1076.0L926.0 1092.0L915.1 1094.3M884.4 1099.4L878.0 1100.0L848.0 1114.0L818.0 1106.0L794.0 1082.0L782.0 1046.0M974.0 1105.0L990.0 1087.0L994.0 1104.0L1024.0 1099.0L1040.0 1120.0L1055.0 1108.0L1106.0 1120.0L1147.0 1132.0L1150.0 1147.0L1133.0 1175.0L1094.0 1167.0L1070.0 1141.0L1052.0 1141.0L1034.0 1153.0L1024.0 1171.0L994.0 1189.0L962.0 1191.0L944.0 1199.0L914.0 1207.0L900.0 1205.0L902.0 1177.0L914.0 1143.0L926.0 1133.0L940.0 1153.0L956.0 1137.0L974.0 1105.0M1264.0 1201.0L1280.0 1203.0L1292.0 1207.0L1310.0 1209.0L1330.0 1217.0L1340.0 1237.0L1342.0 1257.0L1336.0 1277.0L1332.0 1297.0L1326.9 1305.5M1307.2 1331.6L1306.0 1333.0L1290.0 1337.0L1274.0 1327.0L1260.0 1311.0L1246.0 1303.0L1244.0 1257.0L1250.0 1241.0L1264.0 1217.0L1264.0 1201.0M235.0 1086.0L232.0 1089.0L242.0 1106.0L250.0 1117.0L256.0 1123.0L268.0 1120.0L272.0 1104.0L263.6 1097.3M241.6 1088.4L235.0 1086.0M838.0 1143.0L856.0 1143.0L868.0 1157.0L864.0 1173.0L850.0 1177.0L836.0 1171.0L832.0 1159.0L838.0 1143.0M810.0 1285.0L822.0 1279.0L834.0 1283.0L850.0 1279.0L838.0 1291.0L826.0 1299.0L810.0 1295.0L810.0 1285.0M92.0 495.0L132.0 498.0L170.0 496.0L214.0 493.0L242.0 494.0L272.0 496.0L302.0 500.0L308.0 506.0L312.0 520.0L332.0 532.0L346.0 542.0L355.0 552.0L348.0 570.0L338.0 580.0L330.0 590.0L324.1 599.5M306.8 627.4L304.0 632.0L292.0 642.0L278.0 656.0L270.0 672.0L267.6 688.0L269.0 689.0L273.0 691.0L276.0 676.0L292.0 668.0L318.0 660.0L332.0 657.0L337.0 664.0L336.0 680.0L339.0 688.0L337.0 683.0L322.0 703.0L302.0 717.0L282.0 727.0L262.0 740.0L242.0 751.0L222.0 761.0L210.0 764.0L193.0 763.0L191.0 783.0L190.0 801.0L186.0 815.0L182.0 833.0L168.0 827.0L148.0 821.0L132.0 816.0L118.0 819.0L92.0 825.0L92.0 495.0M494.0 1080.0L510.0 1066.0L510.5 1066.0M538.9 1064.1L540.0 1064.0L558.0 1054.0L574.0 1066.0L586.0 1074.0L600.0 1078.0L586.0 1084.0L558.0 1084.0L540.0 1096.0L530.0 1092.0L510.0 1098.0L494.0 1101.0L482.0 1100.0L482.0 1082.0L494.0 1080.0M808.0 1070.0L814.0 1048.0L828.0 1026.0L854.0 1012.0L878.0 1010.0L898.0 1020.0L918.0 1026.0L926.0 1046.0L922.0 1078.0L904.0 1082.0L894.0 1078.0L878.0 1086.0L877.2 1086.2M845.1 1094.6L838.0 1096.0L822.0 1094.0L812.0 1086.0L808.0 1070.0M1301.3 1225.0L1308.0 1225.0L1328.0 1243.0L1316.0 1265.0L1298.0 1265.0L1282.0 1257.0L1282.0 1233.5M838.0 1159.0L856.0 1158.0L860.0 1165.0L854.0 1173.0L842.0 1172.0L836.0 1165.0L838.0 1159.0M756.0 1345.0L778.0 1337.0L786.0 1353.0L784.0 1377.0L754.0 1377.0L756.0 1345.0M843.9 1251.1L844.0 1251.0L852.0 1269.0L846.0 1281.0L836.0 1279.0L834.0 1257.0M1122.0 1151.0L1131.0 1143.0L1138.0 1151.0L1131.0 1160.0L1122.0 1151.0M938.0 1165.0L948.0 1160.0L962.0 1171.0L948.0 1177.0L938.0 1165.0M916.0 1195.0L932.0 1161.0L934.0 1185.0L937.0 1197.0L928.0 1199.0L916.0 1195.0M102.0 500.0L132.0 504.0L162.0 501.0L192.0 498.0L232.0 498.0L268.0 506.0L270.0 520.0L276.0 536.0L292.0 542.0L312.0 547.0L322.0 554.0L332.0 566.0L322.0 578.0L306.0 598.0L292.0 616.0L278.0 632.0L262.0 652.0L254.0 668.0L252.0 674.3M242.0 705.6L239.0 715.0L238.0 729.0L230.0 743.0L218.0 753.0L212.0 759.0M822.0 1086.0L820.0 1074.0L834.0 1056.0L845.4 1041.4M852.4 1029.1L856.0 1022.0L878.0 1016.0L890.0 1020.0M305.3 857.7L307.7 856.6M307.7 856.6L335.3 844.3L378.7 830.3L418.7 803.7L438.7 783.7L455.3 798.7L468.7 790.3L472.0 817.0L482.0 830.3L488.7 850.3L518.7 867.0L545.3 873.7L568.7 867.0L592.0 880.3L612.0 900.3L617.0 933.7L608.7 967.0L600.3 993.7L595.3 1017.0L602.0 1033.7L622.0 1060.3L630.2 1067.5M645.6 1081.0L648.7 1083.7L665.3 1094.3L657.4 1092.6L642.2 1084.2M626.7 1074.8L606.8 1062.1M592.0 1049.6L572.7 1032.6L548.7 1000.7L522.1 976.1L502.1 963.5L470.5 952.2L436.6 942.3L404.7 929.8L372.1 900.1L337.8 875.8L307.7 856.6M307.7 856.6L301.7 852.8L305.3 857.7M335.3 847.0L348.7 837.0L365.3 850.3L385.3 863.7L395.3 870.3L418.7 877.0L435.3 863.7L455.3 843.7L460.3 850.3L448.7 873.7L465.3 883.7L502.0 880.3L535.3 873.7L558.7 870.3L582.0 883.7L592.0 907.0L595.3 933.7L585.3 957.0L582.0 980.3L532.0 967.0L528.7 947.0L515.3 937.0L468.7 927.0L418.7 917.0L385.3 903.7L365.3 887.0L355.3 870.3L342.0 883.7L335.3 877.0L335.3 847.0M375.3 883.7L422.0 882.0L438.7 893.7L502.0 900.3L532.0 897.0L545.3 888.7L553.7 893.7L552.0 910.3L532.0 912.0L523.7 937.0L507.0 933.7L512.0 910.3L498.7 907.0L492.0 923.7L475.3 930.3L435.3 922.0L428.7 921.4M408.4 919.8L395.3 918.7L372.0 900.3L375.3 883.7M355.7 851.2L358.7 857.0L347.0 865.3L340.3 857.0L340.3 851.2M532.0 926.0L586.0 926.0L590.0 938.0L586.0 962.0L578.0 982.0L564.0 974.0L548.0 966.0L534.0 964.0L532.0 946.0L532.0 926.0M618.0 1054.0L630.0 1054.0L638.0 1066.0L648.0 1082.0L662.0 1090.0L650.0 1093.0L636.0 1088.0L626.0 1074.0L618.0 1054.0M500.0 745.6L516.7 734.4L527.8 735.8L522.2 749.7L508.3 765.0L501.4 771.9L486.1 777.5L487.5 762.2L494.4 751.1L500.0 745.6M1016.4 764.9L1017.0 772.0L1015.0 783.0L1008.0 784.0L1002.0 772.0L1002.0 765.8M717.0 675.0L710.0 689.0L718.0 696.0L732.0 697.0L754.0 690.0L748.0 681.0L739.1 681.6M722.3 677.5L717.0 675.0M840.0 812.0L870.0 801.0L896.0 810.0L896.0 823.0L880.0 823.4M860.2 823.9L854.0 824.0L840.0 812.0M496.0 675.0L506.0 689.0L508.0 713.0L496.0 719.0L496.0 675.0M496.0 747.0L510.0 736.0L528.0 736.0L522.0 751.0L512.0 763.0L504.0 771.0L496.0 773.0L496.0 747.0M1206.4 1231.7L1246.4 1209.4L1268.7 1196.1L1317.6 1205.0L1348.7 1231.7L1355.5 1245.4M1358.0 1274.5L1353.1 1293.9L1384.2 1316.1L1410.9 1338.3L1428.7 1373.9L1162.0 1373.9L1184.2 1338.3L1210.9 1316.1L1188.7 1289.4L1206.4 1258.3L1206.4 1231.7M806.4 1227.2L833.1 1213.9L850.9 1187.2L837.6 1151.7L850.9 1142.8L868.7 1151.7L868.7 1187.2L886.4 1227.2L908.7 1240.6L895.3 1258.3L864.2 1280.6L819.8 1285.0L802.0 1258.3L806.4 1227.2M1153.1 1218.3L1176.5 1215.4M1202.8 1231.5L1206.4 1236.1L1188.7 1271.7L1162.0 1267.2L1153.1 1218.3" fill="none" stroke="#000" stroke-width="2.35" stroke-linejoin="round"/>
<path d="M102.0 214.0L132.0 212.0L158.0 201.0L188.0 190.0L218.0 180.0L223.6 177.9M260.2 164.2L266.0 162.0L294.0 152.0L322.0 143.0L340.0 137.0L342.0 125.0M656.0 133.0L657.8 140.4L666.6 151.4L680.0 156.4L707.8 157.0L711.7 157.1M752.3 158.4L757.8 158.6L785.6 160.4L793.3 161.4L817.8 166.4L840.0 170.3L856.7 179.2L873.3 184.8L884.4 189.2L901.1 188.7L912.2 194.8L928.9 205.9L945.6 220.3L967.8 224.8L990.0 231.4L1010.0 237.6L1016.0 245.0L1020.0 265.0L1023.0 291.0L1038.0 291.0L1050.0 297.0L1062.0 309.0L1070.0 323.0L1084.0 337.0L1114.0 342.0L1154.0 349.0L1184.0 359.0L1218.0 370.0L1254.0 377.0L1290.0 379.0L1310.0 380.0L1330.0 383.0L1346.0 382.6L1360.0 391.0L1390.0 391.4L1430.0 387.0L1470.0 386.0L1510.0 377.0L1530.0 376.0L1560.0 363.0L1590.0 347.0L1610.0 333.0L1638.0 317.0L1650.0 311.0M712.2 183.6L712.2 178.2L718.3 173.0M736.0 177.9L736.6 183.6L730.0 188.6L718.8 189.2L712.2 183.6M102.0 228.0L128.0 222.0L156.0 212.0L182.0 204.0L202.0 197.0L226.0 187.0L250.0 180.0L270.0 173.0L290.0 169.0L298.3 166.8M335.8 152.2L338.0 151.0L356.0 137.0L358.0 125.0L523.6 125.0L524.0 137.0L525.0 149.0L532.0 157.0L540.0 149.0L550.0 145.0L578.0 143.0L610.0 146.0L630.0 153.6L641.2 160.4L663.4 166.4L674.4 169.2L701.2 170.8L704.4 181.4L701.2 189.2L694.4 199.2L698.8 203.6L706.6 203.6L711.2 199.2L716.6 194.8L730.0 196.4L736.6 192.6L741.2 185.8L745.6 175.8L752.2 171.4L763.4 169.2L785.6 170.4L790.0 170.3L812.2 174.8L834.4 178.1L847.8 190.3L856.7 197.0L862.2 201.4L873.3 205.9L890.0 209.2L901.1 209.8L906.7 215.9L910.0 223.7L915.6 232.6L926.7 240.3L934.4 244.2L951.1 244.8L962.2 249.2L978.9 255.9L985.6 261.4L988.9 270.3L988.9 279.2L984.4 287.0L983.3 287.0L984.4 293.7L995.6 299.2L1003.3 305.9L1005.6 314.8L1006.6 325.1M1006.6 325.1L1006.7 325.9L1006.6 325.1M1006.6 325.1L1005.0 313.0L1005.0 325.0L1006.6 325.1M1006.6 325.1L1006.6 325.1M1006.6 325.1L1022.0 326.0L1034.0 335.0L1054.0 347.0L1062.0 359.0L1068.0 369.0L1094.0 374.0L1120.0 377.0L1130.0 384.0L1174.0 388.0L1206.0 393.0L1234.0 402.0L1254.0 403.0L1290.0 401.0L1310.0 405.0L1329.2 407.9M1369.0 414.2L1374.0 415.0L1410.0 411.0L1450.0 406.0L1480.0 405.0L1510.0 395.0L1540.0 385.0L1570.0 373.0L1600.0 357.0L1620.0 343.0L1638.0 332.0L1650.0 325.0M122.9 235.7L132.0 232.4L148.0 231.2L168.0 234.0L190.0 235.4L206.0 232.0L216.0 220.0L225.4 210.0L235.0 215.0L247.0 217.8L260.0 215.4L277.0 204.0L302.0 195.0L322.0 187.0L350.0 169.0L356.0 155.0L370.0 147.0L386.0 140.0L390.0 137.0L391.0 125.0L407.0 125.0L408.0 137.0L420.0 151.0L430.0 154.0L440.0 150.0L486.0 151.0L478.0 167.0L488.0 173.0L498.0 176.0L518.0 178.0L538.0 179.0L564.0 176.0L578.0 171.0L594.0 172.0L606.0 167.0L618.0 168.0L630.0 172.6L646.6 182.6L663.4 197.0L677.8 213.6L684.4 217.0L692.2 214.2L707.8 208.2L718.8 206.4L730.0 206.4L738.8 200.4L746.6 191.4L763.4 189.2L774.4 184.8L785.6 181.4L790.0 180.9L798.9 182.6L804.4 190.3L834.4 192.6L847.8 208.1L856.7 214.8L867.8 220.3L876.7 225.9L882.2 232.6L884.4 242.6L890.0 245.3L901.1 247.0L912.2 251.4L928.9 257.0L945.6 260.3L954.4 268.1L958.9 275.9L958.9 290.3L953.3 298.1L946.7 303.7L948.9 308.1L960.0 312.6L970.0 318.1L977.8 325.9L982.2 337.0L988.9 345.9L993.3 350.9L1001.1 350.9L1010.0 351.0L1022.0 359.0L1032.0 369.0L1038.0 385.0L1052.0 393.0L1078.0 398.0L1104.0 407.0L1130.0 414.0L1160.0 415.0L1182.0 417.0L1200.0 424.0L1210.0 430.0L1224.0 427.0L1238.0 425.0L1252.0 430.0L1270.0 434.0L1280.4 433.5M1320.8 435.2L1326.0 435.6L1360.0 433.0L1390.0 430.0L1420.0 432.0L1446.0 430.0L1470.0 422.0L1490.0 419.0L1510.0 417.0L1530.0 408.0L1560.0 399.0L1580.0 387.0L1610.0 373.0L1638.0 359.0L1650.0 353.0M102.0 252.0L114.0 246.0L127.0 243.0L148.0 243.0L156.0 249.0L162.0 254.0L190.0 255.0L214.0 251.4L224.0 242.6L242.0 241.0L268.0 244.0L282.0 240.0L294.0 231.0L304.0 223.0L324.0 216.0L334.0 205.0L356.0 197.0L362.0 187.0L376.0 178.0L388.0 184.0L402.0 184.0L411.0 180.0L422.0 184.0L452.0 185.0L498.0 189.4L518.0 192.0L538.0 195.0L546.0 199.0L556.0 195.0L568.0 193.0L582.0 195.0L592.0 201.0L604.0 203.0L616.0 197.0L624.0 193.0L636.0 197.0L644.0 205.0L648.0 217.0L648.8 228.2L655.6 239.2L668.8 239.8L685.6 238.2L695.6 231.4L707.8 223.6L718.8 219.8L741.2 217.0L757.8 211.4L768.8 209.8L786.0 209.2L793.3 209.2L801.1 215.9L810.0 219.2L837.8 222.6L847.8 227.0L852.2 234.8L856.7 243.7L865.6 250.3L876.7 258.1L884.4 263.7L901.1 264.8L910.0 271.4L921.1 280.3L926.7 297.0L918.9 305.9L925.6 310.3L937.8 319.2L943.3 329.2L945.6 337.0L952.2 343.7L962.2 350.3L963.3 357.0L961.1 364.8L963.3 370.3L973.3 374.8L987.8 378.1L995.3 381.1M995.3 381.1L995.5 381.2M995.5 381.2L998.9 382.6L1002.2 390.3L1003.2 392.6M1003.2 392.6L1005.6 398.1L995.3 381.1M995.3 381.1L994.0 379.0L995.5 381.2M995.5 381.2L1002.0 391.0L1003.2 392.6M1003.2 392.6L1008.0 399.0L1030.0 407.0L1054.0 417.0L1064.0 429.0L1078.0 434.0L1082.0 434.4M1122.3 438.4L1128.0 439.0L1150.0 440.0L1162.0 448.0L1182.0 455.0L1206.0 460.0L1234.0 459.0L1262.0 459.0L1290.0 458.0L1320.0 452.0L1350.0 448.0L1390.0 447.0L1430.0 447.6L1462.0 448.0L1490.0 442.0L1510.0 437.0L1540.0 430.0L1570.0 418.0L1590.0 406.0L1610.0 390.0L1638.0 375.0L1650.0 369.0M102.0 264.0L112.0 259.0L120.0 261.0L126.0 273.0L136.0 279.4L154.0 278.6L172.0 273.0L186.0 269.4L214.0 265.0L224.0 258.0L238.0 254.0L250.0 257.0L262.0 259.4L282.0 257.0L292.0 250.0L300.0 240.0L312.0 232.0L326.0 226.0L358.0 222.0L386.0 219.0L398.0 212.0L400.0 199.0L410.0 193.0L420.0 200.0L430.0 204.0L452.0 202.0L470.0 197.0L482.0 204.0L498.0 208.0L509.1 211.4L519.1 214.8L521.3 223.7L526.9 231.4L540.2 240.3L550.2 248.1L556.9 259.2L560.2 269.2L564.7 275.9L573.6 277.6L580.2 276.4L585.8 268.1L590.2 257.0L593.6 244.8L590.2 233.7L586.9 229.2L598.0 222.0L609.1 214.2L618.0 209.2L624.7 207.0L629.1 210.3L633.6 213.7L632.4 224.8L629.1 230.3L620.2 237.0L611.3 244.8L615.8 249.2L624.7 255.9L642.4 255.3L659.1 256.4L671.3 258.1L681.3 252.6L692.4 249.2L703.6 245.9L711.3 239.2L718.0 234.8L730.0 229.2L741.2 232.6L752.2 238.2L763.4 242.6L774.4 247.0L785.6 249.8L795.1 253.8M830.7 272.6L834.4 274.8L858.8 274.8L867.8 277.0L882.2 281.4L893.3 288.1L896.7 291.4L895.6 298.1L892.2 308.1L887.8 313.7L885.6 319.2L886.7 322.6L892.2 321.4L897.8 319.2L903.3 319.8L907.8 324.8L912.2 333.7L917.8 345.9L922.2 357.0L925.6 368.1L928.9 379.2L934.4 385.9L947.8 392.6L958.9 397.0L967.8 404.8L976.7 412.6L987.8 417.0L1001.1 423.7L1014.0 434.0L1034.0 449.0L1054.0 458.0L1074.0 466.0L1094.0 468.4L1134.0 469.0L1164.0 473.0L1194.0 477.0L1234.0 477.0L1264.0 476.0L1290.0 474.0L1310.0 469.0L1340.0 468.0L1380.0 467.0L1420.0 466.0L1446.0 460.0L1462.0 459.0L1480.0 462.0L1494.0 460.0L1520.0 452.0L1550.0 443.0L1574.0 434.0L1600.0 422.0L1620.0 412.0L1638.0 403.0L1650.0 396.0M609.1 261.4L603.6 269.2L602.4 277.0L605.8 283.1L609.1 288.1L611.9 282.6L613.6 274.8L611.3 267.0L609.1 261.4M102.0 295.4L132.0 296.0L156.0 292.0L182.0 287.0L214.0 281.0L230.0 275.0L240.0 270.0L250.0 275.0L272.0 276.0L290.0 273.0L302.0 265.0L310.0 249.0L316.0 245.0L328.0 248.0L342.0 246.0L362.0 239.0L386.0 235.0L410.0 232.6L432.0 233.0L446.0 239.0L458.0 246.0L470.0 248.0L482.0 243.0L498.0 241.0L501.3 247.6L509.1 254.8L516.9 264.8L526.9 271.4L536.9 279.2L544.7 287.0L553.6 293.7L564.7 300.3L575.8 307.0L590.2 314.8L601.3 318.7L613.6 319.2L630.2 314.8L642.4 310.3L651.3 304.8L659.1 295.9L663.6 290.3L661.3 283.7L655.8 276.4L648.0 276.4L636.9 277.2L625.8 279.8L621.3 275.9L623.6 270.3L636.9 273.1L648.0 273.7L653.6 273.7L664.7 272.6L675.8 268.1L686.9 261.4L698.0 258.1L715.8 253.7L728.0 252.0L744.0 259.0L756.0 267.0L772.0 277.0L788.0 282.0L794.4 287.0L806.7 289.2L834.4 293.7L845.6 298.1L858.9 300.9L871.1 304.2L868.9 310.3L864.4 315.9L863.3 321.4L867.8 328.1L878.9 334.8L886.7 343.7L890.0 353.7L893.3 365.9L894.4 377.0L896.7 383.7L904.4 392.6L914.4 399.2L923.3 407.0L930.0 415.9L937.8 424.8L945.6 432.6L964.0 444.0L984.0 454.0L1006.0 466.0L1030.0 477.0L1054.0 484.0L1074.0 488.0L1092.0 488.0L1096.0 488.3M1136.4 491.8L1144.0 492.4L1174.0 494.0L1210.0 497.0L1244.0 496.0L1274.0 493.0L1290.0 490.0L1302.0 488.0L1314.0 492.0L1330.0 493.0L1350.0 488.0L1370.0 486.0L1384.0 489.0L1394.0 504.0L1406.0 508.0L1426.0 508.0L1446.0 500.0L1470.0 491.0L1490.0 483.0L1520.0 475.0L1550.0 470.0L1570.0 464.0L1590.0 457.0L1610.0 451.0L1622.0 440.0L1630.0 430.0L1638.0 422.0L1650.0 412.0M102.0 332.0L114.0 322.0L132.0 315.0L162.0 310.0L182.0 307.0L190.0 299.0L208.0 291.0L230.0 289.0L254.0 286.0L278.0 285.0L294.0 281.4L310.0 277.0L322.0 276.0L318.0 267.0L315.6 260.0L332.0 257.0L360.0 254.0L376.0 258.0L392.0 264.0L402.0 260.0L411.0 256.0L424.0 260.0L432.0 273.0L446.0 285.0L468.0 293.0L498.0 296.6L509.1 299.2L520.2 302.6L531.3 304.2L544.7 304.2L551.3 307.0L560.2 314.8L569.1 319.2L573.6 323.7L575.8 329.2L580.2 334.8L586.9 337.0L598.0 336.4L611.3 335.3L622.4 332.0L634.7 328.7L645.8 326.4L658.0 323.7L664.7 318.7L671.3 314.8L684.7 314.8L693.6 310.3L700.2 306.4L709.1 307.0L718.0 308.1L738.0 309.4L758.0 312.6L778.0 312.0L794.4 309.2L801.1 312.6L816.7 319.2L831.1 328.1L840.0 334.8L844.4 345.9L852.2 353.7L858.9 362.6L862.2 369.2L864.4 381.4L865.6 392.6L867.8 399.2L876.7 404.8L887.8 409.2L898.9 413.1L903.3 420.3L905.6 430.3L902.0 420.0L906.0 434.0L912.0 446.0L928.0 458.0L950.0 470.0L974.0 480.0L998.0 490.0L1022.0 496.0L1040.0 502.0L1054.0 510.0L1094.0 512.0L1134.0 515.0L1174.0 518.0L1194.0 524.0L1206.0 520.0L1224.0 517.0L1242.0 518.0L1252.0 522.0L1248.0 530.0L1244.0 537.0L1256.0 538.0L1264.0 530.0L1274.0 522.0L1290.0 519.0L1306.0 520.0L1326.0 526.0L1360.0 531.0L1390.0 529.0L1414.0 525.0L1434.0 518.0L1460.0 512.0L1490.0 505.0L1506.0 500.0L1511.4 498.4M1550.9 489.5L1558.0 488.0L1586.0 480.0L1614.0 474.0L1630.0 467.0L1638.0 463.0L1650.0 458.0M102.0 355.8L122.0 343.0L152.0 329.0L186.0 318.0L202.0 307.0L222.0 303.0L242.0 305.0L262.0 309.4L274.0 312.0L288.0 307.0L297.0 297.0L304.0 291.0L322.0 289.0L352.0 285.0L368.0 280.0L382.0 282.0L396.0 290.0L380.0 306.0L392.0 313.0L410.0 319.0L442.0 320.0L468.0 325.0L498.0 325.4L509.1 323.1L520.2 323.1L530.2 324.8L535.8 329.2L542.4 337.0L546.9 344.8L553.6 352.6L560.2 355.3L573.6 354.8L586.9 353.1L603.6 351.4L620.2 347.0L636.9 343.7L653.6 341.4L670.2 339.8L684.7 336.8L698.0 336.8L718.0 337.6L738.0 334.0L758.0 332.6L778.0 336.0L790.0 341.4L801.1 343.7L812.2 346.4L820.0 351.4L827.8 359.2L832.2 369.2L836.7 380.3L838.9 390.3L840.0 400.3L844.4 410.3L850.0 419.2L858.9 424.8L870.0 427.0L873.3 432.6L874.0 440.0L882.0 458.0L894.0 469.0L914.0 484.0L938.0 492.0L944.6 494.0M983.4 505.6L988.0 507.0L1010.0 516.0L1024.0 526.0L1042.0 531.0L1054.0 536.0L1053.0 553.0L1064.0 554.0L1080.0 552.0L1094.0 547.0L1118.0 545.0L1128.0 537.0L1139.0 536.0L1137.0 548.0L1128.0 566.0L1134.0 571.0L1150.0 573.0L1174.0 571.0L1190.0 566.0L1208.0 563.0L1222.0 568.0L1238.0 571.0L1260.0 567.0L1290.0 562.0L1310.0 557.0L1330.0 554.0L1356.0 548.0L1380.0 543.0L1410.0 534.0L1450.0 524.0L1490.0 518.0L1510.0 512.0L1540.0 503.0L1570.0 498.0L1590.0 495.0L1604.0 497.0L1620.0 504.0L1630.0 510.0L1638.0 516.0L1650.0 520.0M102.0 375.2L126.0 361.0L158.0 345.0L182.0 335.0L196.0 323.0L210.0 317.0L226.0 315.0L242.0 321.0L262.0 326.0L282.0 329.0L304.0 326.0L322.0 317.0L338.0 307.0L350.0 305.0L356.0 317.0L362.0 329.0L378.0 338.0L412.0 337.0L432.0 332.0L452.0 334.0L468.0 339.0L498.0 339.0L501.4 338.2L509.2 342.6L518.0 349.2L523.6 357.0L534.0 367.0L548.0 371.0L564.0 370.0L578.0 363.0L602.0 360.0L638.0 357.0L668.0 355.0L680.2 357.0L698.0 354.8L718.0 353.6L742.0 349.0L758.0 353.0L778.0 357.0L793.4 362.6L804.4 367.0L811.2 377.0L815.0 397.0L822.2 419.2L834.0 434.0L848.0 452.0L864.0 470.0L878.0 484.0L894.0 496.0L904.2 501.1M929.2 512.8L934.0 515.0L954.0 524.0L974.0 532.0L984.0 540.0L992.0 553.0L1024.0 555.0L1034.0 566.0L1046.0 578.0L1054.0 590.0L1062.0 598.0L1084.0 604.0L1104.0 602.0L1134.0 601.0L1154.0 597.0L1174.0 594.0L1194.0 592.0L1208.0 597.0L1224.0 592.0L1244.0 586.0L1264.0 581.0L1290.0 577.0L1320.0 570.0L1350.0 562.0L1380.0 556.0L1410.0 549.0L1450.0 543.0L1480.0 540.0L1500.0 534.0L1530.0 530.0L1540.0 522.0L1550.0 518.0L1570.0 517.0L1590.0 516.0L1600.0 519.0L1614.0 525.0L1630.0 530.0L1638.0 534.0L1650.0 538.0M102.0 387.8L122.0 377.0L142.0 365.0L168.0 347.0L188.0 339.0L206.0 332.0L226.0 330.0L246.0 334.0L266.0 341.0L286.0 347.0L300.0 345.0L314.0 349.0L322.0 359.0L330.0 369.0L342.0 370.0L360.0 365.0L386.0 358.0L414.0 357.0L442.0 351.4L462.0 354.0L482.0 354.0L498.0 359.0L510.0 367.0L526.0 383.0L542.0 389.0L564.0 389.4L578.0 385.0L590.0 380.0L618.0 379.0L658.0 376.0L688.0 373.0L714.0 371.0L734.0 367.0L750.0 367.0L764.0 372.0L776.0 380.0L784.0 393.0L788.0 407.0L791.0 421.4L798.0 434.0L810.0 452.0L826.0 470.0L838.0 488.0L858.0 508.0L878.0 524.0L894.0 536.0L914.0 540.0L934.0 552.0L954.0 562.0L964.0 572.0L970.0 592.0L974.0 599.0L994.0 604.0L1018.0 610.0L1030.0 618.0L1038.0 628.0L1054.0 634.0L1074.0 635.6L1094.0 632.0L1110.0 628.0L1134.0 627.0L1164.0 622.0L1194.0 618.0L1214.0 610.0L1244.0 602.0L1264.0 595.0L1290.0 590.0L1310.0 584.0L1340.0 575.0L1370.0 568.0L1410.0 562.0L1440.0 561.0L1470.0 560.0L1471.6 559.7M1498.9 554.4L1506.0 553.0L1526.0 557.0L1544.0 555.0L1558.0 544.0L1580.0 538.0L1594.0 536.0L1608.0 540.0L1616.0 552.0L1622.0 570.0L1638.0 564.0L1650.0 560.0M102.0 400.2L122.0 390.0L136.8 380.7M161.7 368.2L168.0 365.0L182.0 357.0L194.0 351.0L206.0 356.0L222.0 359.0L242.0 353.0L254.0 355.0L272.0 363.0L288.0 369.0L298.0 381.0L310.0 387.0L326.0 385.0L352.0 380.0L382.0 377.0L414.0 375.0L442.0 371.0L462.0 370.0L482.0 374.0L498.0 377.0L514.0 389.0L528.0 399.0L544.0 405.0L564.0 405.0L582.0 401.0L610.0 401.0L638.0 397.0L668.0 396.0L698.0 393.0L718.0 387.0L734.0 385.0L748.0 389.0L760.0 397.0L768.0 409.0L772.0 425.0L768.0 430.0L778.0 452.0L782.0 472.0L794.0 488.0L810.0 506.0L815.6 510.0L826.7 518.9L840.0 530.0L856.7 538.9L873.3 547.8L890.0 556.7L904.4 566.7L905.0 578.9L906.7 587.8L913.3 597.8L926.7 604.4L938.9 612.2L938.9 616.7L928.9 623.3L917.8 626.7L907.8 628.9L917.8 629.4L934.4 631.7L951.1 634.4L960.0 635.0L964.0 635.0L984.0 640.0L998.0 646.0L1014.0 654.0L1044.0 655.0L1064.0 660.0L1084.0 671.0L1114.0 670.0L1134.0 667.0L1154.0 660.0L1174.0 652.0L1198.0 644.0L1214.0 634.0L1234.0 626.0L1254.0 620.0L1274.0 615.0L1290.0 611.0L1310.0 604.0L1340.0 597.0L1370.0 588.0L1400.0 581.0L1430.0 578.0L1450.0 579.0L1460.0 584.0L1466.0 596.0L1474.0 612.0L1471.0 628.0L1484.0 627.0L1500.0 622.0L1507.0 630.0L1508.0 640.0L1516.0 647.0L1530.0 640.0L1546.0 628.0L1560.0 636.0L1574.0 648.0L1590.0 649.0L1608.0 639.0L1620.0 649.0L1638.0 659.0L1650.0 664.0M1492.0 580.0L1490.0 590.0L1498.0 602.0L1516.0 610.0L1530.0 600.0L1542.0 595.0L1549.9 590.6M1573.3 575.5L1578.0 572.0L1582.0 568.0L1574.0 562.0L1562.0 558.0L1548.0 570.0L1530.0 574.0L1516.0 569.0L1502.0 572.0L1492.0 580.0M1516.0 576.0L1509.0 584.0L1512.0 594.0L1517.0 598.0L1522.0 590.0L1523.0 581.0L1516.0 576.0M102.0 410.0L122.0 401.0L142.0 391.0L162.0 380.0L178.0 375.0L192.0 381.0L214.0 389.0L230.0 395.0L242.0 400.0L262.0 403.0L286.0 403.4L310.0 396.0L332.0 392.0L362.0 390.6L386.0 392.0L406.0 395.0L411.3 394.5M438.9 391.7L446.0 391.0L472.0 392.0L498.0 399.0L518.0 411.0L538.0 419.0L558.0 422.0L578.0 420.0L598.0 417.0L610.0 421.0L626.0 417.0L650.0 417.0L670.0 421.0L678.0 415.0L698.0 411.0L718.0 410.0L734.0 415.0L738.0 425.0L734.0 422.0L730.0 432.0L728.0 442.0L738.0 452.0L746.0 464.0L750.0 484.0L754.0 500.0L750.0 512.2L752.2 526.7L754.4 536.7L760.0 541.1L773.3 544.4L786.7 545.6L802.2 542.2L815.6 541.7L826.7 545.6L835.6 550.0L840.0 558.9L846.7 567.8L852.2 578.9L860.0 592.2L868.9 602.2L878.9 608.9L883.9 612.2L882.2 615.6L873.3 621.1L862.2 626.7L853.3 632.2L842.2 637.8L835.6 642.2L836.7 645.6L846.7 647.8L862.2 650.6L884.4 651.1L906.7 653.3L928.9 658.9L940.0 657.8L948.9 656.7L954.4 662.2L956.7 670.0L956.0 673.0L964.0 685.0L978.0 689.0L998.0 689.0L1014.0 695.0L1034.0 701.0L1064.0 700.0L1094.0 697.0L1124.0 693.0L1154.0 687.0L1164.0 680.0L1194.0 673.0L1224.0 670.0L1250.0 672.0L1264.0 664.0L1274.0 659.0L1290.0 664.0L1300.0 666.0L1320.0 659.0L1340.0 656.0L1360.0 656.0L1376.0 651.0L1400.0 652.0L1414.0 655.0L1426.0 664.0L1440.0 668.0L1448.0 678.0L1456.0 688.0L1470.0 695.0L1476.0 707.0L1476.0 735.0L1490.0 741.0L1510.0 746.0L1530.0 750.0L1550.0 749.0L1564.0 741.0L1570.0 729.0L1576.0 719.0L1590.0 724.0L1610.0 729.0L1612.0 743.0L1610.0 763.0L1606.0 781.0L1620.0 791.0L1638.0 789.0L1650.0 787.0" fill="none" stroke="#000" stroke-width="2.3" stroke-dasharray="2.3 3.6" stroke-linejoin="round"/>
<g font-size="20" text-anchor="middle">
<text transform="translate(240.0 166.0) rotate(-15)" y="7.2">-24</text>
<text transform="translate(318.0 162.0) rotate(-27)" y="7.2">-22</text>
<text transform="translate(732.0 158.0) rotate(5)" y="7.2">-24</text>
<text transform="translate(104.0 243.0) rotate(-18)" y="7.2">-20</text>
<text transform="translate(814.0 261.0) rotate(28)" y="7.2">-16</text>
<text transform="translate(149.0 374.0) rotate(-14)" y="7.2">-4</text>
<text transform="translate(425.0 392.0) rotate(0)" y="7.2">-2</text>
<text transform="translate(332.0 427.5) rotate(0)" y="7.2">2</text>
<text transform="translate(471.5 528.0) rotate(-75)" y="7.2">8</text>
<text transform="translate(532.0 561.0) rotate(-75)" y="7.2">8</text>
<text transform="translate(639.5 562.0) rotate(0)" y="7.2">2</text>
<text transform="translate(318.0 615.0) rotate(-50)" y="7.2">14</text>
<text transform="translate(563.0 654.0) rotate(-60)" y="7.2">4</text>
<text transform="translate(244.0 689.0) rotate(-60)" y="7.2">16</text>
<text transform="translate(732.0 674.0) rotate(-75)" y="7.2">0</text>
<text transform="translate(1348.7 413.4) rotate(8)" y="7.2">-22</text>
<text transform="translate(1300.7 432.6) rotate(3)" y="7.2">-20</text>
<text transform="translate(1102.0 437.9) rotate(6)" y="7.2">-18</text>
<text transform="translate(1116.2 490.3) rotate(5)" y="7.2">-14</text>
<text transform="translate(1530.9 492.6) rotate(-10)" y="7.2">-12</text>
<text transform="translate(964.2 499.2) rotate(12)" y="7.2">-10</text>
<text transform="translate(917.6 505.0) rotate(18)" y="7.2">-8</text>
<text transform="translate(1485.0 555.7) rotate(5)" y="7.2">-6</text>
<text transform="translate(1562.0 583.7) rotate(-18)" y="7.2">-4</text>
<text transform="translate(901.0 711.7) rotate(5)" y="7.2">0</text>
<text transform="translate(1008.7 757.9) rotate(0)" y="7.2">0</text>
<text transform="translate(1392.2 788.6) rotate(0)" y="7.2">0</text>
<text transform="translate(870.0 820.6) rotate(5)" y="7.2">6</text>
<text transform="translate(1347.8 883.7) rotate(0)" y="7.2">2</text>
<text transform="translate(947.8 988.0) rotate(28)" y="7.2">10</text>
<text transform="translate(949.6 1025.0) rotate(-60)" y="7.2">8</text>
<text transform="translate(1085.0 1026.0) rotate(-60)" y="7.2">8</text>
<text transform="translate(1125.0 1042.8) rotate(-70)" y="7.2">8</text>
<text transform="translate(1315.3 1066.0) rotate(0)" y="7.2">8</text>
<text transform="translate(862.0 1042.8) rotate(-30)" y="7.2">16</text>
<text transform="translate(860.7 1088.6) rotate(-8)" y="7.2">14</text>
<text transform="translate(900.7 1102.8) rotate(-25)" y="7.2">12</text>
<text transform="translate(1561.0 1127.0) rotate(0)" y="7.2">8</text>
<text transform="translate(1606.4 1153.9) rotate(0)" y="7.2">8</text>
<text transform="translate(1314.4 1165.0) rotate(100)" y="7.2">6</text>
<text transform="translate(795.3 1147.0) rotate(65)" y="7.2">10</text>
<text transform="translate(913.0 1233.0) rotate(70)" y="7.2">8</text>
<text transform="translate(1193.0 1218.0) rotate(5)" y="7.2">10</text>
<text transform="translate(1286.4 1217.4) rotate(20)" y="7.2">14</text>
<text transform="translate(1348.7 1260.6) rotate(60)" y="7.2">10</text>
<text transform="translate(1494.4 1241.9) rotate(0)" y="7.2">6</text>
<text transform="translate(1206.4 1274.8) rotate(-20)" y="7.2">12</text>
<text transform="translate(1468.7 1300.6) rotate(0)" y="7.2">8</text>
<text transform="translate(1319.8 1320.6) rotate(-50)" y="7.2">12</text>
<text transform="translate(830.9 1240.6) rotate(15)" y="7.2">14</text>
<text transform="translate(1099.8 1337.4) rotate(-60)" y="7.2">8</text>
<text transform="translate(1175.3 1347.0) rotate(-30)" y="7.2">8</text>
<text transform="translate(1403.0 1351.7) rotate(-30)" y="7.2">8</text>
<text transform="translate(824.0 1346.0) rotate(0)" y="7.2">4</text>
<text transform="translate(1624.0 1304.0) rotate(-80)" y="7.2">0</text>
<text transform="translate(1100.7 1358.0) rotate(90)" y="7.2">8</text>
<text transform="translate(581.0 720.3) rotate(180)" y="7.2">6</text>
<text transform="translate(485.3 757.0) rotate(90)" y="7.2">8</text>
<text transform="translate(595.3 807.7) rotate(0)" y="7.2">4</text>
<text transform="translate(192.0 841.0) rotate(-30)" y="7.2">10</text>
<text transform="translate(230.3 857.7) rotate(-80)" y="7.2">8</text>
<text transform="translate(348.0 844.3) rotate(90)" y="7.2">0</text>
<text transform="translate(418.7 918.7) rotate(-30)" y="7.2">0</text>
<text transform="translate(424.7 943.7) rotate(60)" y="7.2">6</text>
<text transform="translate(655.3 877.7) rotate(0)" y="7.2">6</text>
<text transform="translate(735.3 936.0) rotate(90)" y="7.2">8</text>
<text transform="translate(163.7 1012.0) rotate(-30)" y="7.2">10</text>
<text transform="translate(257.0 1082.0) rotate(35)" y="7.2">12</text>
<text transform="translate(525.3 1073.7) rotate(35)" y="7.2">14</text>
<text transform="translate(567.0 1041.0) rotate(-55)" y="7.2">8</text>
<text transform="translate(597.0 1058.7) rotate(0)" y="7.2">4</text>
<text transform="translate(637.0 1075.3) rotate(-20)" y="7.2">4</text>
<text transform="translate(165.0 1288.0) rotate(5)" y="7.2">10</text>
<text transform="translate(641.0 1307.0) rotate(30)" y="7.2">12</text>
<text transform="translate(530.0 1351.0) rotate(-45)" y="7.2">12</text>
<text transform="translate(702.0 1334.0) rotate(5)" y="7.2">10</text>
<text transform="translate(739.0 1337.0) rotate(-60)" y="7.2">8</text>
<text transform="translate(622.0 1105.0) rotate(10)" y="7.2">12</text>
</g>
</g>
<rect x="102.0" y="137.0" width="1536.0" height="1229.0" fill="none" stroke="#000" stroke-width="2"/>
<g font-size="25">
<text x="90" y="1219.9" text-anchor="end">5°N</text>
<text x="90" y="1066.2" text-anchor="end">10°N</text>
<text x="90" y="912.6" text-anchor="end">15°N</text>
<text x="90" y="759.0" text-anchor="end">20°N</text>
<text x="90" y="605.4" text-anchor="end">25°N</text>
<text x="90" y="451.8" text-anchor="end">30°N</text>
<text x="90" y="298.1" text-anchor="end">35°N</text>
<text x="410.0" y="1397" text-anchor="middle">90°W</text>
<text x="717.2" y="1397" text-anchor="middle">80°W</text>
<text x="1024.4" y="1397" text-anchor="middle">70°W</text>
<text x="1331.6" y="1397" text-anchor="middle">60°W</text>
</g>
<rect x="1675.0" y="1286.50" width="60.0" height="60.00" fill="#5e4fa2"/>
<rect x="1675.0" y="1227.00" width="60.0" height="60.00" fill="#486cb0"/>
<rect x="1675.0" y="1167.50" width="60.0" height="60.00" fill="#3389bd"/>
<rect x="1675.0" y="1108.00" width="60.0" height="60.00" fill="#50a9af"/>
<rect x="1675.0" y="1048.50" width="60.0" height="60.00" fill="#6bc4a5"/>
<rect x="1675.0" y="989.00" width="60.0" height="60.00" fill="#91d3a4"/>
<rect x="1675.0" y="929.50" width="60.0" height="60.00" fill="#b3e0a2"/>
<rect x="1675.0" y="870.00" width="60.0" height="60.00" fill="#d1ed9c"/>
<rect x="1675.0" y="810.50" width="60.0" height="60.00" fill="#ebf7a0"/>
<rect x="1675.0" y="751.00" width="60.0" height="60.00" fill="#f8fcb4"/>
<rect x="1675.0" y="691.50" width="60.0" height="60.00" fill="#fff7b2"/>
<rect x="1675.0" y="632.00" width="60.0" height="60.00" fill="#fee797"/>
<rect x="1675.0" y="572.50" width="60.0" height="60.00" fill="#fed07e"/>
<rect x="1675.0" y="513.00" width="60.0" height="60.00" fill="#fdb768"/>
<rect x="1675.0" y="453.50" width="60.0" height="60.00" fill="#fa9857"/>
<rect x="1675.0" y="394.00" width="60.0" height="60.00" fill="#f57547"/>
<rect x="1675.0" y="334.50" width="60.0" height="60.00" fill="#e85b48"/>
<rect x="1675.0" y="275.00" width="60.0" height="60.00" fill="#d7414e"/>
<rect x="1675.0" y="215.50" width="60.0" height="60.00" fill="#bc2249"/>
<rect x="1675.0" y="156.00" width="60.0" height="60.00" fill="#9e0142"/>
<rect x="1675.0" y="156.0" width="60.0" height="1190.0" fill="none" stroke="#000" stroke-width="2"/>
<g font-size="25">
<text x="1753" y="1356.4">−24</text>
<text x="1753" y="1296.9">−22</text>
<text x="1753" y="1237.4">−20</text>
<text x="1753" y="1177.9">−18</text>
<text x="1753" y="1118.4">−16</text>
<text x="1753" y="1058.9">−14</text>
<text x="1753" y="999.4">−12</text>
<text x="1753" y="939.9">−10</text>
<text x="1753" y="880.4">−8</text>
<text x="1753" y="820.9">−6</text>
<text x="1753" y="761.4">−4</text>
<text x="1753" y="701.9">−2</text>
<text x="1753" y="642.4">0</text>
<text x="1753" y="582.9">2</text>
<text x="1753" y="523.4">4</text>
<text x="1753" y="463.9">6</text>
<text x="1753" y="404.4">8</text>
<text x="1753" y="344.9">10</text>
<text x="1753" y="285.4">12</text>
<text x="1753" y="225.9">14</text>
<text x="1753" y="166.4">16</text>
</g>
<path d="M1735.0 1346.00h9.5M1735.0 1286.50h9.5M1735.0 1227.00h9.5M1735.0 1167.50h9.5M1735.0 1108.00h9.5M1735.0 1048.50h9.5M1735.0 989.00h9.5M1735.0 929.50h9.5M1735.0 870.00h9.5M1735.0 810.50h9.5M1735.0 751.00h9.5M1735.0 691.50h9.5M1735.0 632.00h9.5M1735.0 572.50h9.5M1735.0 513.00h9.5M1735.0 453.50h9.5M1735.0 394.00h9.5M1735.0 334.50h9.5M1735.0 275.00h9.5M1735.0 215.50h9.5M1735.0 156.00h9.5" stroke="#000" stroke-width="2" fill="none"/>
<text font-size="25" text-anchor="middle" transform="translate(1834,752) rotate(-90)">Anomalía de θe de saturación media 1000–700 hPa [°C]</text>
</svg></body></html>
